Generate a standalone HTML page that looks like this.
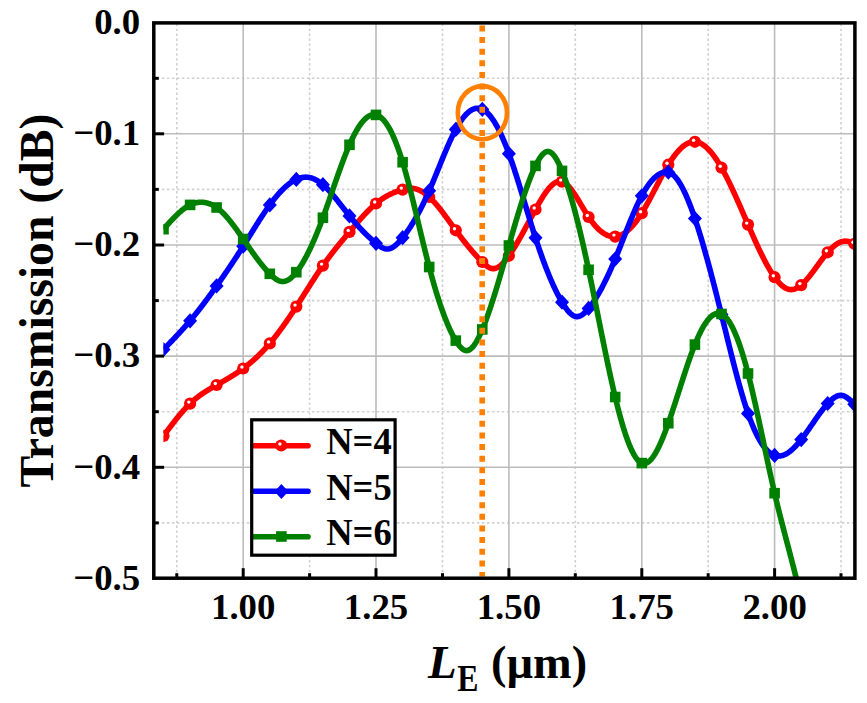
<!DOCTYPE html>
<html><head><meta charset="utf-8"><style>
html,body{margin:0;padding:0;background:#fff;}
body{width:867px;height:703px;overflow:hidden;font-family:"Liberation Serif",serif;}
svg{display:block;}
</style></head><body>
<svg width="867" height="703" viewBox="0 0 867 703">
<rect width="867" height="703" fill="#fff"/>
<defs><clipPath id="pc"><rect x="163.4" y="22.9" width="691.5" height="555.3"/></clipPath></defs>
<line x1="176.8" y1="22.9" x2="176.8" y2="578.2" stroke="#d0d0d0" stroke-width="1.6" stroke-dasharray="2.4 2.52" stroke-dashoffset="4.1"/>
<line x1="309.6" y1="22.9" x2="309.6" y2="578.2" stroke="#d0d0d0" stroke-width="1.6" stroke-dasharray="2.4 2.52" stroke-dashoffset="4.1"/>
<line x1="442.5" y1="22.9" x2="442.5" y2="578.2" stroke="#d0d0d0" stroke-width="1.6" stroke-dasharray="2.4 2.52" stroke-dashoffset="4.1"/>
<line x1="575.3" y1="22.9" x2="575.3" y2="578.2" stroke="#d0d0d0" stroke-width="1.6" stroke-dasharray="2.4 2.52" stroke-dashoffset="4.1"/>
<line x1="708.2" y1="22.9" x2="708.2" y2="578.2" stroke="#d0d0d0" stroke-width="1.6" stroke-dasharray="2.4 2.52" stroke-dashoffset="4.1"/>
<line x1="841.0" y1="22.9" x2="841.0" y2="578.2" stroke="#d0d0d0" stroke-width="1.6" stroke-dasharray="2.4 2.52" stroke-dashoffset="4.1"/>
<line x1="153.8" y1="78.3" x2="854.9" y2="78.3" stroke="#d0d0d0" stroke-width="1.6" stroke-dasharray="2.45 2.55" stroke-dashoffset="1.9"/>
<line x1="153.8" y1="189.4" x2="854.9" y2="189.4" stroke="#d0d0d0" stroke-width="1.6" stroke-dasharray="2.45 2.55" stroke-dashoffset="1.9"/>
<line x1="153.8" y1="300.6" x2="854.9" y2="300.6" stroke="#d0d0d0" stroke-width="1.6" stroke-dasharray="2.45 2.55" stroke-dashoffset="1.9"/>
<line x1="153.8" y1="411.7" x2="854.9" y2="411.7" stroke="#d0d0d0" stroke-width="1.6" stroke-dasharray="2.45 2.55" stroke-dashoffset="1.9"/>
<line x1="153.8" y1="522.9" x2="854.9" y2="522.9" stroke="#d0d0d0" stroke-width="1.6" stroke-dasharray="2.45 2.55" stroke-dashoffset="1.9"/>
<line x1="243.2" y1="22.9" x2="243.2" y2="578.2" stroke="#bcbcbc" stroke-width="1.6"/>
<line x1="376.0" y1="22.9" x2="376.0" y2="578.2" stroke="#bcbcbc" stroke-width="1.6"/>
<line x1="508.9" y1="22.9" x2="508.9" y2="578.2" stroke="#bcbcbc" stroke-width="1.6"/>
<line x1="641.8" y1="22.9" x2="641.8" y2="578.2" stroke="#bcbcbc" stroke-width="1.6"/>
<line x1="774.6" y1="22.9" x2="774.6" y2="578.2" stroke="#bcbcbc" stroke-width="1.6"/>
<line x1="153.8" y1="133.8" x2="854.9" y2="133.8" stroke="#bcbcbc" stroke-width="1.6"/>
<line x1="153.8" y1="245.0" x2="854.9" y2="245.0" stroke="#bcbcbc" stroke-width="1.6"/>
<line x1="153.8" y1="356.1" x2="854.9" y2="356.1" stroke="#bcbcbc" stroke-width="1.6"/>
<line x1="153.8" y1="467.3" x2="854.9" y2="467.3" stroke="#bcbcbc" stroke-width="1.6"/>
<g clip-path="url(#pc)">
<path d="M163.49,435.90 L163.99,435.23 L164.49,434.56 L164.99,433.88 L165.49,433.21 L165.99,432.54 L166.49,431.87 L166.99,431.20 L167.49,430.54 L167.99,429.87 L168.49,429.20 L168.99,428.54 L169.49,427.88 L169.99,427.21 L170.49,426.56 L170.99,425.90 L171.49,425.24 L171.99,424.59 L172.49,423.94 L172.99,423.29 L173.49,422.64 L173.99,422.00 L174.49,421.36 L174.99,420.72 L175.49,420.09 L175.99,419.46 L176.49,418.83 L176.99,418.20 L177.49,417.58 L177.99,416.97 L178.49,416.35 L178.99,415.75 L179.49,415.14 L179.99,414.54 L180.49,413.95 L180.99,413.36 L181.49,412.77 L181.99,412.19 L182.49,411.61 L182.99,411.04 L183.49,410.48 L183.99,409.92 L184.49,409.36 L184.99,408.81 L185.49,408.27 L185.99,407.73 L186.49,407.20 L186.99,406.68 L187.49,406.16 L187.99,405.65 L188.49,405.14 L188.99,404.64 L189.49,404.15 L189.99,403.67 L190.49,403.19 L190.99,402.72 L191.49,402.26 L191.99,401.80 L192.49,401.35 L192.99,400.91 L193.49,400.47 L193.99,400.04 L194.49,399.62 L194.99,399.20 L195.49,398.79 L195.99,398.38 L196.49,397.98 L196.99,397.59 L197.49,397.20 L197.99,396.82 L198.49,396.44 L198.99,396.06 L199.49,395.69 L199.99,395.33 L200.49,394.97 L200.99,394.61 L201.49,394.26 L201.99,393.92 L202.49,393.57 L202.99,393.23 L203.49,392.90 L203.99,392.57 L204.49,392.24 L204.99,391.91 L205.49,391.59 L205.99,391.27 L206.49,390.96 L206.99,390.65 L207.49,390.34 L207.99,390.03 L208.49,389.73 L208.99,389.42 L209.49,389.12 L209.99,388.83 L210.49,388.53 L210.99,388.24 L211.49,387.94 L211.99,387.65 L212.49,387.36 L212.99,387.07 L213.49,386.79 L213.99,386.50 L214.49,386.22 L214.99,385.93 L215.49,385.65 L215.99,385.36 L216.49,385.08 L216.99,384.80 L217.49,384.51 L217.99,384.23 L218.49,383.95 L218.99,383.66 L219.49,383.38 L219.99,383.10 L220.49,382.81 L220.99,382.53 L221.49,382.24 L221.99,381.96 L222.49,381.67 L222.99,381.39 L223.49,381.10 L223.99,380.81 L224.49,380.52 L224.99,380.24 L225.49,379.94 L225.99,379.65 L226.49,379.36 L226.99,379.07 L227.49,378.77 L227.99,378.48 L228.49,378.18 L228.99,377.88 L229.49,377.58 L229.99,377.28 L230.49,376.97 L230.99,376.67 L231.49,376.36 L231.99,376.05 L232.49,375.74 L232.99,375.43 L233.49,375.11 L233.99,374.80 L234.49,374.48 L234.99,374.16 L235.49,373.83 L235.99,373.51 L236.49,373.18 L236.99,372.85 L237.49,372.51 L237.99,372.18 L238.49,371.84 L238.99,371.50 L239.49,371.15 L239.99,370.80 L240.49,370.45 L240.99,370.10 L241.49,369.74 L241.99,369.38 L242.49,369.02 L242.99,368.65 L243.49,368.29 L243.99,367.91 L244.49,367.54 L244.99,367.16 L245.49,366.77 L245.99,366.39 L246.49,366.00 L246.99,365.60 L247.49,365.20 L247.99,364.80 L248.49,364.40 L248.99,363.99 L249.49,363.58 L249.99,363.16 L250.49,362.74 L250.99,362.32 L251.49,361.89 L251.99,361.46 L252.49,361.02 L252.99,360.58 L253.49,360.14 L253.99,359.69 L254.49,359.24 L254.99,358.79 L255.49,358.33 L255.99,357.87 L256.49,357.40 L256.99,356.93 L257.49,356.45 L257.99,355.97 L258.49,355.49 L258.99,355.00 L259.49,354.51 L259.99,354.01 L260.49,353.51 L260.99,353.01 L261.49,352.50 L261.99,351.98 L262.49,351.46 L262.99,350.94 L263.49,350.41 L263.99,349.88 L264.49,349.35 L264.99,348.80 L265.49,348.26 L265.99,347.71 L266.49,347.15 L266.99,346.60 L267.49,346.03 L267.99,345.46 L268.49,344.89 L268.99,344.31 L269.49,343.73 L269.99,343.14 L270.49,342.55 L270.99,341.95 L271.49,341.35 L271.99,340.74 L272.49,340.13 L272.99,339.51 L273.49,338.89 L273.99,338.27 L274.49,337.64 L274.99,337.01 L275.49,336.37 L275.99,335.73 L276.49,335.08 L276.99,334.43 L277.49,333.78 L277.99,333.12 L278.49,332.45 L278.99,331.79 L279.49,331.12 L279.99,330.44 L280.49,329.76 L280.99,329.08 L281.49,328.40 L281.99,327.71 L282.49,327.02 L282.99,326.32 L283.49,325.62 L283.99,324.92 L284.49,324.21 L284.99,323.50 L285.49,322.79 L285.99,322.07 L286.49,321.35 L286.99,320.63 L287.49,319.90 L287.99,319.17 L288.49,318.44 L288.99,317.71 L289.49,316.97 L289.99,316.23 L290.49,315.48 L290.99,314.74 L291.49,313.99 L291.99,313.24 L292.49,312.48 L292.99,311.73 L293.49,310.97 L293.99,310.21 L294.49,309.44 L294.99,308.68 L295.49,307.91 L295.99,307.14 L296.49,306.37 L296.99,305.59 L297.49,304.82 L297.99,304.04 L298.49,303.26 L298.99,302.48 L299.49,301.69 L299.99,300.91 L300.49,300.12 L300.99,299.34 L301.49,298.55 L301.99,297.76 L302.49,296.97 L302.99,296.18 L303.49,295.39 L303.99,294.60 L304.49,293.81 L304.99,293.02 L305.49,292.23 L305.99,291.43 L306.49,290.64 L306.99,289.85 L307.49,289.06 L307.99,288.27 L308.49,287.48 L308.99,286.70 L309.49,285.91 L309.99,285.12 L310.49,284.34 L310.99,283.56 L311.49,282.77 L311.99,281.99 L312.49,281.22 L312.99,280.44 L313.49,279.67 L313.99,278.89 L314.49,278.12 L314.99,277.35 L315.49,276.59 L315.99,275.83 L316.49,275.07 L316.99,274.31 L317.49,273.55 L317.99,272.80 L318.49,272.06 L318.99,271.31 L319.49,270.57 L319.99,269.83 L320.49,269.10 L320.99,268.37 L321.49,267.64 L321.99,266.92 L322.49,266.20 L322.99,265.49 L323.49,264.78 L323.99,264.07 L324.49,263.37 L324.99,262.67 L325.49,261.98 L325.99,261.29 L326.49,260.61 L326.99,259.93 L327.49,259.25 L327.99,258.58 L328.49,257.91 L328.99,257.24 L329.49,256.58 L329.99,255.92 L330.49,255.26 L330.99,254.61 L331.49,253.95 L331.99,253.31 L332.49,252.66 L332.99,252.02 L333.49,251.38 L333.99,250.75 L334.49,250.11 L334.99,249.48 L335.49,248.85 L335.99,248.23 L336.49,247.60 L336.99,246.98 L337.49,246.36 L337.99,245.74 L338.49,245.12 L338.99,244.51 L339.49,243.90 L339.99,243.29 L340.49,242.68 L340.99,242.07 L341.49,241.46 L341.99,240.86 L342.49,240.26 L342.99,239.65 L343.49,239.05 L343.99,238.45 L344.49,237.85 L344.99,237.25 L345.49,236.65 L345.99,236.06 L346.49,235.46 L346.99,234.86 L347.49,234.27 L347.99,233.67 L348.49,233.08 L348.99,232.48 L349.49,231.89 L349.99,231.29 L350.49,230.70 L350.99,230.10 L351.49,229.51 L351.99,228.92 L352.49,228.32 L352.99,227.73 L353.49,227.14 L353.99,226.55 L354.49,225.96 L354.99,225.37 L355.49,224.79 L355.99,224.20 L356.49,223.62 L356.99,223.04 L357.49,222.46 L357.99,221.88 L358.49,221.31 L358.99,220.74 L359.49,220.17 L359.99,219.60 L360.49,219.03 L360.99,218.47 L361.49,217.91 L361.99,217.36 L362.49,216.80 L362.99,216.25 L363.49,215.71 L363.99,215.16 L364.49,214.63 L364.99,214.09 L365.49,213.56 L365.99,213.03 L366.49,212.51 L366.99,211.99 L367.49,211.48 L367.99,210.97 L368.49,210.46 L368.99,209.96 L369.49,209.47 L369.99,208.98 L370.49,208.50 L370.99,208.02 L371.49,207.54 L371.99,207.08 L372.49,206.61 L372.99,206.16 L373.49,205.71 L373.99,205.26 L374.49,204.82 L374.99,204.39 L375.49,203.97 L375.99,203.55 L376.49,203.14 L376.99,202.73 L377.49,202.33 L377.99,201.94 L378.49,201.56 L378.99,201.18 L379.49,200.81 L379.99,200.44 L380.49,200.08 L380.99,199.73 L381.49,199.38 L381.99,199.04 L382.49,198.71 L382.99,198.38 L383.49,198.05 L383.99,197.74 L384.49,197.43 L384.99,197.12 L385.49,196.82 L385.99,196.53 L386.49,196.24 L386.99,195.96 L387.49,195.68 L387.99,195.41 L388.49,195.14 L388.99,194.88 L389.49,194.63 L389.99,194.37 L390.49,194.13 L390.99,193.89 L391.49,193.65 L391.99,193.42 L392.49,193.20 L392.99,192.98 L393.49,192.76 L393.99,192.55 L394.49,192.35 L394.99,192.14 L395.49,191.95 L395.99,191.75 L396.49,191.57 L396.99,191.38 L397.49,191.20 L397.99,191.03 L398.49,190.86 L398.99,190.69 L399.49,190.53 L399.99,190.37 L400.49,190.21 L400.99,190.06 L401.49,189.92 L401.99,189.77 L402.49,189.64 L402.99,189.50 L403.49,189.37 L403.99,189.24 L404.49,189.12 L404.99,189.00 L405.49,188.90 L405.99,188.79 L406.49,188.70 L406.99,188.61 L407.49,188.53 L407.99,188.46 L408.49,188.40 L408.99,188.35 L409.49,188.31 L409.99,188.29 L410.49,188.27 L410.99,188.27 L411.49,188.28 L411.99,188.30 L412.49,188.34 L412.99,188.39 L413.49,188.45 L413.99,188.53 L414.49,188.62 L414.99,188.73 L415.49,188.85 L415.99,188.98 L416.49,189.13 L416.99,189.29 L417.49,189.46 L417.99,189.64 L418.49,189.84 L418.99,190.05 L419.49,190.28 L419.99,190.51 L420.49,190.76 L420.99,191.02 L421.49,191.30 L421.99,191.58 L422.49,191.88 L422.99,192.19 L423.49,192.51 L423.99,192.85 L424.49,193.19 L424.99,193.55 L425.49,193.92 L425.99,194.30 L426.49,194.69 L426.99,195.10 L427.49,195.51 L427.99,195.93 L428.49,196.37 L428.99,196.82 L429.49,197.28 L429.99,197.74 L430.49,198.22 L430.99,198.71 L431.49,199.21 L431.99,199.72 L432.49,200.24 L432.99,200.76 L433.49,201.30 L433.99,201.84 L434.49,202.40 L434.99,202.96 L435.49,203.53 L435.99,204.10 L436.49,204.69 L436.99,205.28 L437.49,205.87 L437.99,206.48 L438.49,207.09 L438.99,207.71 L439.49,208.33 L439.99,208.96 L440.49,209.59 L440.99,210.23 L441.49,210.88 L441.99,211.52 L442.49,212.18 L442.99,212.84 L443.49,213.50 L443.99,214.16 L444.49,214.83 L444.99,215.50 L445.49,216.18 L445.99,216.86 L446.49,217.54 L446.99,218.22 L447.49,218.90 L447.99,219.59 L448.49,220.28 L448.99,220.97 L449.49,221.66 L449.99,222.35 L450.49,223.04 L450.99,223.73 L451.49,224.42 L451.99,225.12 L452.49,225.81 L452.99,226.50 L453.49,227.19 L453.99,227.88 L454.49,228.56 L454.99,229.25 L455.49,229.93 L455.99,230.61 L456.49,231.29 L456.99,231.97 L457.49,232.64 L457.99,233.31 L458.49,233.98 L458.99,234.65 L459.49,235.32 L459.99,235.98 L460.49,236.64 L460.99,237.29 L461.49,237.94 L461.99,238.59 L462.49,239.24 L462.99,239.89 L463.49,240.53 L463.99,241.17 L464.49,241.80 L464.99,242.43 L465.49,243.06 L465.99,243.69 L466.49,244.31 L466.99,244.93 L467.49,245.54 L467.99,246.16 L468.49,246.76 L468.99,247.37 L469.49,247.97 L469.99,248.57 L470.49,249.16 L470.99,249.75 L471.49,250.34 L471.99,250.92 L472.49,251.50 L472.99,252.07 L473.49,252.64 L473.99,253.21 L474.49,253.77 L474.99,254.33 L475.49,254.88 L475.99,255.43 L476.49,255.98 L476.99,256.52 L477.49,257.05 L477.99,257.58 L478.49,258.11 L478.99,258.63 L479.49,259.15 L479.99,259.66 L480.49,260.17 L480.99,260.67 L481.49,261.17 L481.99,261.67 L482.49,262.16 L482.99,262.64 L483.49,263.11 L483.99,263.58 L484.49,264.04 L484.99,264.48 L485.49,264.91 L485.99,265.33 L486.49,265.73 L486.99,266.11 L487.49,266.47 L487.99,266.81 L488.49,267.12 L488.99,267.41 L489.49,267.68 L489.99,267.91 L490.49,268.12 L490.99,268.29 L491.49,268.43 L491.99,268.54 L492.49,268.61 L492.99,268.64 L493.49,268.64 L493.99,268.61 L494.49,268.54 L494.99,268.45 L495.49,268.32 L495.99,268.16 L496.49,267.97 L496.99,267.75 L497.49,267.51 L497.99,267.23 L498.49,266.93 L498.99,266.61 L499.49,266.25 L499.99,265.88 L500.49,265.48 L500.99,265.05 L501.49,264.60 L501.99,264.14 L502.49,263.65 L502.99,263.14 L503.49,262.60 L503.99,262.06 L504.49,261.49 L504.99,260.90 L505.49,260.30 L505.99,259.68 L506.49,259.05 L506.99,258.40 L507.49,257.74 L507.99,257.06 L508.49,256.37 L508.99,255.67 L509.49,254.96 L509.99,254.24 L510.49,253.51 L510.99,252.76 L511.49,252.01 L511.99,251.25 L512.49,250.47 L512.99,249.69 L513.49,248.90 L513.99,248.10 L514.49,247.29 L514.99,246.48 L515.49,245.65 L515.99,244.82 L516.49,243.98 L516.99,243.14 L517.49,242.29 L517.99,241.43 L518.49,240.56 L518.99,239.69 L519.49,238.81 L519.99,237.93 L520.49,237.05 L520.99,236.15 L521.49,235.26 L521.99,234.36 L522.49,233.45 L522.99,232.54 L523.49,231.63 L523.99,230.72 L524.49,229.80 L524.99,228.88 L525.49,227.96 L525.99,227.03 L526.49,226.11 L526.99,225.18 L527.49,224.25 L527.99,223.32 L528.49,222.39 L528.99,221.46 L529.49,220.53 L529.99,219.60 L530.49,218.67 L530.99,217.74 L531.49,216.81 L531.99,215.89 L532.49,214.96 L532.99,214.04 L533.49,213.12 L533.99,212.20 L534.49,211.29 L534.99,210.37 L535.49,209.46 L535.99,208.56 L536.49,207.66 L536.99,206.76 L537.49,205.87 L537.99,204.98 L538.49,204.11 L538.99,203.23 L539.49,202.37 L539.99,201.52 L540.49,200.67 L540.99,199.83 L541.49,199.01 L541.99,198.19 L542.49,197.39 L542.99,196.60 L543.49,195.82 L543.99,195.06 L544.49,194.31 L544.99,193.57 L545.49,192.85 L545.99,192.14 L546.49,191.45 L546.99,190.78 L547.49,190.13 L547.99,189.49 L548.49,188.88 L548.99,188.28 L549.49,187.70 L549.99,187.14 L550.49,186.61 L550.99,186.10 L551.49,185.60 L551.99,185.14 L552.49,184.69 L552.99,184.27 L553.49,183.88 L553.99,183.51 L554.49,183.17 L554.99,182.85 L555.49,182.56 L555.99,182.30 L556.49,182.07 L556.99,181.87 L557.49,181.69 L557.99,181.55 L558.49,181.44 L558.99,181.36 L559.49,181.31 L559.99,181.30 L560.49,181.32 L560.99,181.37 L561.49,181.46 L561.99,181.59 L562.49,181.75 L562.99,181.94 L563.49,182.17 L563.99,182.43 L564.49,182.73 L564.99,183.05 L565.49,183.41 L565.99,183.80 L566.49,184.21 L566.99,184.65 L567.49,185.12 L567.99,185.62 L568.49,186.14 L568.99,186.69 L569.49,187.25 L569.99,187.84 L570.49,188.46 L570.99,189.09 L571.49,189.74 L571.99,190.41 L572.49,191.10 L572.99,191.80 L573.49,192.52 L573.99,193.25 L574.49,194.00 L574.99,194.76 L575.49,195.54 L575.99,196.32 L576.49,197.12 L576.99,197.92 L577.49,198.73 L577.99,199.55 L578.49,200.38 L578.99,201.21 L579.49,202.05 L579.99,202.89 L580.49,203.73 L580.99,204.57 L581.49,205.42 L581.99,206.26 L582.49,207.11 L582.99,207.95 L583.49,208.79 L583.99,209.62 L584.49,210.45 L584.99,211.28 L585.49,212.10 L585.99,212.91 L586.49,213.71 L586.99,214.50 L587.49,215.29 L587.99,216.06 L588.49,216.82 L588.99,217.57 L589.49,218.30 L589.99,219.02 L590.49,219.73 L590.99,220.42 L591.49,221.10 L591.99,221.76 L592.49,222.42 L592.99,223.06 L593.49,223.68 L593.99,224.29 L594.49,224.89 L594.99,225.47 L595.49,226.04 L595.99,226.59 L596.49,227.13 L596.99,227.66 L597.49,228.17 L597.99,228.67 L598.49,229.15 L598.99,229.62 L599.49,230.08 L599.99,230.52 L600.49,230.94 L600.99,231.35 L601.49,231.75 L601.99,232.13 L602.49,232.49 L602.99,232.84 L603.49,233.18 L603.99,233.50 L604.49,233.80 L604.99,234.09 L605.49,234.37 L605.99,234.63 L606.49,234.87 L606.99,235.10 L607.49,235.32 L607.99,235.51 L608.49,235.70 L608.99,235.86 L609.49,236.01 L609.99,236.15 L610.49,236.27 L610.99,236.37 L611.49,236.46 L611.99,236.53 L612.49,236.58 L612.99,236.62 L613.49,236.64 L613.99,236.65 L614.49,236.64 L614.99,236.61 L615.49,236.57 L615.99,236.51 L616.49,236.44 L616.99,236.34 L617.49,236.24 L617.99,236.11 L618.49,235.97 L618.99,235.82 L619.49,235.64 L619.99,235.46 L620.49,235.25 L620.99,235.03 L621.49,234.80 L621.99,234.55 L622.49,234.28 L622.99,234.00 L623.49,233.70 L623.99,233.39 L624.49,233.07 L624.99,232.73 L625.49,232.37 L625.99,232.00 L626.49,231.61 L626.99,231.21 L627.49,230.80 L627.99,230.37 L628.49,229.93 L628.99,229.47 L629.49,229.00 L629.99,228.51 L630.49,228.01 L630.99,227.49 L631.49,226.97 L631.99,226.42 L632.49,225.87 L632.99,225.30 L633.49,224.72 L633.99,224.12 L634.49,223.51 L634.99,222.89 L635.49,222.25 L635.99,221.60 L636.49,220.94 L636.99,220.26 L637.49,219.58 L637.99,218.87 L638.49,218.16 L638.99,217.43 L639.49,216.70 L639.99,215.94 L640.49,215.18 L640.99,214.40 L641.49,213.61 L641.99,212.81 L642.49,212.00 L642.99,211.18 L643.49,210.34 L643.99,209.50 L644.49,208.64 L644.99,207.78 L645.49,206.90 L645.99,206.02 L646.49,205.13 L646.99,204.23 L647.49,203.32 L647.99,202.41 L648.49,201.49 L648.99,200.56 L649.49,199.63 L649.99,198.69 L650.49,197.75 L650.99,196.80 L651.49,195.85 L651.99,194.90 L652.49,193.94 L652.99,192.98 L653.49,192.02 L653.99,191.06 L654.49,190.09 L654.99,189.13 L655.49,188.16 L655.99,187.20 L656.49,186.23 L656.99,185.27 L657.49,184.31 L657.99,183.35 L658.49,182.39 L658.99,181.43 L659.49,180.48 L659.99,179.53 L660.49,178.59 L660.99,177.65 L661.49,176.72 L661.99,175.79 L662.49,174.87 L662.99,173.95 L663.49,173.04 L663.99,172.14 L664.49,171.25 L664.99,170.36 L665.49,169.48 L665.99,168.61 L666.49,167.75 L666.99,166.91 L667.49,166.07 L667.99,165.24 L668.49,164.42 L668.99,163.62 L669.49,162.83 L669.99,162.05 L670.49,161.28 L670.99,160.52 L671.49,159.78 L671.99,159.05 L672.49,158.33 L672.99,157.62 L673.49,156.93 L673.99,156.25 L674.49,155.58 L674.99,154.93 L675.49,154.29 L675.99,153.67 L676.49,153.06 L676.99,152.46 L677.49,151.88 L677.99,151.31 L678.49,150.76 L678.99,150.22 L679.49,149.70 L679.99,149.19 L680.49,148.70 L680.99,148.22 L681.49,147.76 L681.99,147.32 L682.49,146.89 L682.99,146.47 L683.49,146.08 L683.99,145.70 L684.49,145.33 L684.99,144.98 L685.49,144.65 L685.99,144.34 L686.49,144.04 L686.99,143.77 L687.49,143.50 L687.99,143.26 L688.49,143.04 L688.99,142.83 L689.49,142.64 L689.99,142.47 L690.49,142.32 L690.99,142.18 L691.49,142.07 L691.99,141.97 L692.49,141.90 L692.99,141.84 L693.49,141.80 L693.99,141.78 L694.49,141.78 L694.99,141.81 L695.49,141.85 L695.99,141.91 L696.49,141.99 L696.99,142.09 L697.49,142.21 L697.99,142.35 L698.49,142.51 L698.99,142.69 L699.49,142.88 L699.99,143.10 L700.49,143.33 L700.99,143.58 L701.49,143.85 L701.99,144.14 L702.49,144.45 L702.99,144.77 L703.49,145.11 L703.99,145.47 L704.49,145.85 L704.99,146.24 L705.49,146.65 L705.99,147.08 L706.49,147.52 L706.99,147.98 L707.49,148.45 L707.99,148.95 L708.49,149.45 L708.99,149.98 L709.49,150.52 L709.99,151.07 L710.49,151.64 L710.99,152.23 L711.49,152.83 L711.99,153.44 L712.49,154.07 L712.99,154.72 L713.49,155.38 L713.99,156.05 L714.49,156.74 L714.99,157.44 L715.49,158.15 L715.99,158.88 L716.49,159.62 L716.99,160.38 L717.49,161.15 L717.99,161.93 L718.49,162.72 L718.99,163.53 L719.49,164.35 L719.99,165.18 L720.49,166.03 L720.99,166.88 L721.49,167.75 L721.99,168.63 L722.49,169.52 L722.99,170.43 L723.49,171.34 L723.99,172.26 L724.49,173.20 L724.99,174.14 L725.49,175.10 L725.99,176.06 L726.49,177.04 L726.99,178.02 L727.49,179.02 L727.99,180.02 L728.49,181.03 L728.99,182.05 L729.49,183.07 L729.99,184.11 L730.49,185.15 L730.99,186.20 L731.49,187.26 L731.99,188.32 L732.49,189.39 L732.99,190.47 L733.49,191.55 L733.99,192.64 L734.49,193.73 L734.99,194.83 L735.49,195.93 L735.99,197.04 L736.49,198.16 L736.99,199.28 L737.49,200.40 L737.99,201.53 L738.49,202.66 L738.99,203.79 L739.49,204.93 L739.99,206.07 L740.49,207.21 L740.99,208.35 L741.49,209.50 L741.99,210.65 L742.49,211.80 L742.99,212.95 L743.49,214.11 L743.99,215.26 L744.49,216.42 L744.99,217.57 L745.49,218.73 L745.99,219.89 L746.49,221.04 L746.99,222.20 L747.49,223.35 L747.99,224.51 L748.49,225.66 L748.99,226.81 L749.49,227.96 L749.99,229.11 L750.49,230.25 L750.99,231.40 L751.49,232.54 L751.99,233.67 L752.49,234.81 L752.99,235.94 L753.49,237.06 L753.99,238.18 L754.49,239.30 L754.99,240.41 L755.49,241.52 L755.99,242.62 L756.49,243.72 L756.99,244.81 L757.49,245.89 L757.99,246.97 L758.49,248.04 L758.99,249.10 L759.49,250.16 L759.99,251.21 L760.49,252.25 L760.99,253.28 L761.49,254.30 L761.99,255.32 L762.49,256.32 L762.99,257.32 L763.49,258.31 L763.99,259.29 L764.49,260.25 L764.99,261.21 L765.49,262.16 L765.99,263.09 L766.49,264.02 L766.99,264.93 L767.49,265.83 L767.99,266.72 L768.49,267.59 L768.99,268.46 L769.49,269.31 L769.99,270.15 L770.49,270.97 L770.99,271.78 L771.49,272.58 L771.99,273.36 L772.49,274.13 L772.99,274.88 L773.49,275.62 L773.99,276.34 L774.49,277.05 L774.99,277.74 L775.49,278.41 L775.99,279.07 L776.49,279.71 L776.99,280.33 L777.49,280.94 L777.99,281.53 L778.49,282.10 L778.99,282.65 L779.49,283.18 L779.99,283.70 L780.49,284.19 L780.99,284.67 L781.49,285.12 L781.99,285.56 L782.49,285.97 L782.99,286.37 L783.49,286.74 L783.99,287.09 L784.49,287.42 L784.99,287.73 L785.49,288.02 L785.99,288.28 L786.49,288.52 L786.99,288.74 L787.49,288.93 L787.99,289.10 L788.49,289.25 L788.99,289.37 L789.49,289.46 L789.99,289.54 L790.49,289.58 L790.99,289.61 L791.49,289.60 L791.99,289.57 L792.49,289.52 L792.99,289.44 L793.49,289.34 L793.99,289.21 L794.49,289.06 L794.99,288.89 L795.49,288.70 L795.99,288.48 L796.49,288.25 L796.99,287.99 L797.49,287.72 L797.99,287.42 L798.49,287.10 L798.99,286.77 L799.49,286.42 L799.99,286.05 L800.49,285.66 L800.99,285.25 L801.49,284.83 L801.99,284.39 L802.49,283.93 L802.99,283.46 L803.49,282.98 L803.99,282.48 L804.49,281.97 L804.99,281.44 L805.49,280.91 L805.99,280.36 L806.49,279.79 L806.99,279.22 L807.49,278.64 L807.99,278.04 L808.49,277.44 L808.99,276.83 L809.49,276.21 L809.99,275.58 L810.49,274.95 L810.99,274.30 L811.49,273.65 L811.99,273.00 L812.49,272.34 L812.99,271.67 L813.49,271.00 L813.99,270.33 L814.49,269.65 L814.99,268.97 L815.49,268.29 L815.99,267.61 L816.49,266.92 L816.99,266.24 L817.49,265.55 L817.99,264.87 L818.49,264.18 L818.99,263.50 L819.49,262.82 L819.99,262.14 L820.49,261.46 L820.99,260.79 L821.49,260.12 L821.99,259.46 L822.49,258.80 L822.99,258.14 L823.49,257.49 L823.99,256.85 L824.49,256.22 L824.99,255.59 L825.49,254.97 L825.99,254.36 L826.49,253.76 L826.99,253.17 L827.49,252.59 L827.99,252.02 L828.49,251.46 L828.99,250.91 L829.49,250.37 L829.99,249.84 L830.49,249.33 L830.99,248.83 L831.49,248.34 L831.99,247.87 L832.49,247.41 L832.99,246.96 L833.49,246.53 L833.99,246.11 L834.49,245.71 L834.99,245.32 L835.49,244.94 L835.99,244.58 L836.49,244.24 L836.99,243.92 L837.49,243.61 L837.99,243.31 L838.49,243.04 L838.99,242.78 L839.49,242.54 L839.99,242.32 L840.49,242.11 L840.99,241.93 L841.49,241.76 L841.99,241.61 L842.49,241.48 L842.99,241.38 L843.49,241.29 L843.99,241.22 L844.49,241.17 L844.99,241.15 L845.49,241.14 L845.99,241.16 L846.49,241.20 L846.99,241.26 L847.49,241.34 L847.99,241.44 L848.49,241.56 L848.99,241.70 L849.49,241.85 L849.99,242.01 L850.49,242.19 L850.99,242.38 L851.49,242.58 L851.99,242.78 L852.49,242.99 L852.99,243.21 L853.49,243.43 L853.99,243.66 L854.31,243.80" stroke="#ff0000" fill="none" stroke-width="5.6" stroke-linejoin="round"/>
<circle cx="163.5" cy="435.9" r="6.1" fill="#ff0000"/><circle cx="162.2" cy="434.4" r="1.7" fill="#fff"/>
<circle cx="190.1" cy="403.6" r="6.1" fill="#ff0000"/><circle cx="188.8" cy="402.1" r="1.7" fill="#fff"/>
<circle cx="216.6" cy="385.0" r="6.1" fill="#ff0000"/><circle cx="215.3" cy="383.5" r="1.7" fill="#fff"/>
<circle cx="243.2" cy="368.5" r="6.1" fill="#ff0000"/><circle cx="241.9" cy="367.0" r="1.7" fill="#fff"/>
<circle cx="269.8" cy="343.4" r="6.1" fill="#ff0000"/><circle cx="268.5" cy="341.9" r="1.7" fill="#fff"/>
<circle cx="296.3" cy="306.6" r="6.1" fill="#ff0000"/><circle cx="295.0" cy="305.1" r="1.7" fill="#fff"/>
<circle cx="322.9" cy="265.6" r="6.1" fill="#ff0000"/><circle cx="321.6" cy="264.1" r="1.7" fill="#fff"/>
<circle cx="349.5" cy="231.9" r="6.1" fill="#ff0000"/><circle cx="348.2" cy="230.4" r="1.7" fill="#fff"/>
<circle cx="376.0" cy="203.5" r="6.1" fill="#ff0000"/><circle cx="374.7" cy="202.0" r="1.7" fill="#fff"/>
<circle cx="402.6" cy="189.6" r="6.1" fill="#ff0000"/><circle cx="401.3" cy="188.1" r="1.7" fill="#fff"/>
<circle cx="429.2" cy="197.0" r="6.1" fill="#ff0000"/><circle cx="427.9" cy="195.5" r="1.7" fill="#fff"/>
<circle cx="455.8" cy="230.3" r="6.1" fill="#ff0000"/><circle cx="454.5" cy="228.8" r="1.7" fill="#fff"/>
<circle cx="482.3" cy="262.0" r="6.1" fill="#ff0000"/><circle cx="481.0" cy="260.5" r="1.7" fill="#fff"/>
<circle cx="508.9" cy="255.8" r="6.1" fill="#ff0000"/><circle cx="507.6" cy="254.3" r="1.7" fill="#fff"/>
<circle cx="535.5" cy="209.5" r="6.1" fill="#ff0000"/><circle cx="534.2" cy="208.0" r="1.7" fill="#fff"/>
<circle cx="562.0" cy="181.6" r="6.1" fill="#ff0000"/><circle cx="560.7" cy="180.1" r="1.7" fill="#fff"/>
<circle cx="588.6" cy="217.0" r="6.1" fill="#ff0000"/><circle cx="587.3" cy="215.5" r="1.7" fill="#fff"/>
<circle cx="615.2" cy="236.6" r="6.1" fill="#ff0000"/><circle cx="613.9" cy="235.1" r="1.7" fill="#fff"/>
<circle cx="641.8" cy="213.2" r="6.1" fill="#ff0000"/><circle cx="640.5" cy="211.7" r="1.7" fill="#fff"/>
<circle cx="668.3" cy="164.7" r="6.1" fill="#ff0000"/><circle cx="667.0" cy="163.2" r="1.7" fill="#fff"/>
<circle cx="694.9" cy="141.8" r="6.1" fill="#ff0000"/><circle cx="693.6" cy="140.3" r="1.7" fill="#fff"/>
<circle cx="721.5" cy="167.7" r="6.1" fill="#ff0000"/><circle cx="720.2" cy="166.2" r="1.7" fill="#fff"/>
<circle cx="748.0" cy="224.6" r="6.1" fill="#ff0000"/><circle cx="746.7" cy="223.1" r="1.7" fill="#fff"/>
<circle cx="774.6" cy="277.2" r="6.1" fill="#ff0000"/><circle cx="773.3" cy="275.7" r="1.7" fill="#fff"/>
<circle cx="801.2" cy="285.1" r="6.1" fill="#ff0000"/><circle cx="799.9" cy="283.6" r="1.7" fill="#fff"/>
<circle cx="827.7" cy="252.3" r="6.1" fill="#ff0000"/><circle cx="826.4" cy="250.8" r="1.7" fill="#fff"/>
<circle cx="854.3" cy="243.8" r="6.1" fill="#ff0000"/><circle cx="853.0" cy="242.3" r="1.7" fill="#fff"/>
<path d="M163.49,349.50 L163.99,348.99 L164.49,348.47 L164.99,347.96 L165.49,347.44 L165.99,346.93 L166.49,346.42 L166.99,345.90 L167.49,345.39 L167.99,344.87 L168.49,344.35 L168.99,343.84 L169.49,343.32 L169.99,342.80 L170.49,342.28 L170.99,341.76 L171.49,341.24 L171.99,340.72 L172.49,340.20 L172.99,339.67 L173.49,339.15 L173.99,338.62 L174.49,338.10 L174.99,337.57 L175.49,337.04 L175.99,336.51 L176.49,335.98 L176.99,335.44 L177.49,334.91 L177.99,334.37 L178.49,333.84 L178.99,333.30 L179.49,332.75 L179.99,332.21 L180.49,331.67 L180.99,331.12 L181.49,330.57 L181.99,330.02 L182.49,329.47 L182.99,328.91 L183.49,328.35 L183.99,327.79 L184.49,327.23 L184.99,326.67 L185.49,326.10 L185.99,325.53 L186.49,324.96 L186.99,324.39 L187.49,323.81 L187.99,323.23 L188.49,322.65 L188.99,322.06 L189.49,321.47 L189.99,320.88 L190.49,320.29 L190.99,319.69 L191.49,319.09 L191.99,318.49 L192.49,317.88 L192.99,317.28 L193.49,316.67 L193.99,316.05 L194.49,315.44 L194.99,314.82 L195.49,314.19 L195.99,313.57 L196.49,312.94 L196.99,312.31 L197.49,311.68 L197.99,311.05 L198.49,310.41 L198.99,309.77 L199.49,309.13 L199.99,308.48 L200.49,307.84 L200.99,307.19 L201.49,306.54 L201.99,305.88 L202.49,305.23 L202.99,304.57 L203.49,303.91 L203.99,303.25 L204.49,302.58 L204.99,301.92 L205.49,301.25 L205.99,300.58 L206.49,299.91 L206.99,299.23 L207.49,298.56 L207.99,297.88 L208.49,297.20 L208.99,296.52 L209.49,295.83 L209.99,295.15 L210.49,294.46 L210.99,293.77 L211.49,293.08 L211.99,292.39 L212.49,291.70 L212.99,291.00 L213.49,290.31 L213.99,289.61 L214.49,288.91 L214.99,288.21 L215.49,287.51 L215.99,286.80 L216.49,286.10 L216.99,285.39 L217.49,284.68 L217.99,283.98 L218.49,283.26 L218.99,282.55 L219.49,281.84 L219.99,281.13 L220.49,280.41 L220.99,279.69 L221.49,278.98 L221.99,278.26 L222.49,277.53 L222.99,276.81 L223.49,276.09 L223.99,275.36 L224.49,274.63 L224.99,273.90 L225.49,273.17 L225.99,272.44 L226.49,271.71 L226.99,270.97 L227.49,270.24 L227.99,269.50 L228.49,268.76 L228.99,268.02 L229.49,267.28 L229.99,266.53 L230.49,265.78 L230.99,265.04 L231.49,264.29 L231.99,263.53 L232.49,262.78 L232.99,262.03 L233.49,261.27 L233.99,260.51 L234.49,259.75 L234.99,258.99 L235.49,258.22 L235.99,257.46 L236.49,256.69 L236.99,255.92 L237.49,255.15 L237.99,254.38 L238.49,253.60 L238.99,252.82 L239.49,252.04 L239.99,251.26 L240.49,250.48 L240.99,249.69 L241.49,248.91 L241.99,248.12 L242.49,247.33 L242.99,246.53 L243.49,245.74 L243.99,244.94 L244.49,244.14 L244.99,243.34 L245.49,242.54 L245.99,241.74 L246.49,240.93 L246.99,240.13 L247.49,239.32 L247.99,238.51 L248.49,237.70 L248.99,236.89 L249.49,236.09 L249.99,235.28 L250.49,234.47 L250.99,233.66 L251.49,232.85 L251.99,232.04 L252.49,231.24 L252.99,230.43 L253.49,229.62 L253.99,228.82 L254.49,228.02 L254.99,227.22 L255.49,226.42 L255.99,225.62 L256.49,224.82 L256.99,224.03 L257.49,223.24 L257.99,222.45 L258.49,221.66 L258.99,220.87 L259.49,220.09 L259.99,219.31 L260.49,218.54 L260.99,217.76 L261.49,217.00 L261.99,216.23 L262.49,215.47 L262.99,214.71 L263.49,213.96 L263.99,213.21 L264.49,212.46 L264.99,211.72 L265.49,210.99 L265.99,210.26 L266.49,209.53 L266.99,208.81 L267.49,208.09 L267.99,207.38 L268.49,206.68 L268.99,205.98 L269.49,205.29 L269.99,204.60 L270.49,203.92 L270.99,203.24 L271.49,202.58 L271.99,201.91 L272.49,201.26 L272.99,200.61 L273.49,199.97 L273.99,199.33 L274.49,198.71 L274.99,198.08 L275.49,197.47 L275.99,196.86 L276.49,196.26 L276.99,195.67 L277.49,195.09 L277.99,194.51 L278.49,193.94 L278.99,193.38 L279.49,192.83 L279.99,192.28 L280.49,191.74 L280.99,191.21 L281.49,190.69 L281.99,190.18 L282.49,189.68 L282.99,189.18 L283.49,188.69 L283.99,188.21 L284.49,187.74 L284.99,187.28 L285.49,186.83 L285.99,186.39 L286.49,185.95 L286.99,185.53 L287.49,185.11 L287.99,184.71 L288.49,184.31 L288.99,183.92 L289.49,183.54 L289.99,183.18 L290.49,182.82 L290.99,182.47 L291.49,182.13 L291.99,181.81 L292.49,181.49 L292.99,181.18 L293.49,180.89 L293.99,180.60 L294.49,180.32 L294.99,180.06 L295.49,179.81 L295.99,179.56 L296.49,179.33 L296.99,179.11 L297.49,178.90 L297.99,178.70 L298.49,178.52 L298.99,178.34 L299.49,178.18 L299.99,178.03 L300.49,177.89 L300.99,177.76 L301.49,177.64 L301.99,177.54 L302.49,177.45 L302.99,177.37 L303.49,177.30 L303.99,177.25 L304.49,177.21 L304.99,177.18 L305.49,177.17 L305.99,177.17 L306.49,177.18 L306.99,177.21 L307.49,177.25 L307.99,177.30 L308.49,177.36 L308.99,177.44 L309.49,177.54 L309.99,177.64 L310.49,177.76 L310.99,177.90 L311.49,178.04 L311.99,178.20 L312.49,178.37 L312.99,178.55 L313.49,178.75 L313.99,178.96 L314.49,179.18 L314.99,179.41 L315.49,179.66 L315.99,179.92 L316.49,180.19 L316.99,180.47 L317.49,180.76 L317.99,181.07 L318.49,181.39 L318.99,181.72 L319.49,182.06 L319.99,182.41 L320.49,182.78 L320.99,183.15 L321.49,183.54 L321.99,183.94 L322.49,184.35 L322.99,184.77 L323.49,185.20 L323.99,185.64 L324.49,186.10 L324.99,186.56 L325.49,187.03 L325.99,187.51 L326.49,188.01 L326.99,188.51 L327.49,189.02 L327.99,189.54 L328.49,190.06 L328.99,190.60 L329.49,191.14 L329.99,191.69 L330.49,192.25 L330.99,192.81 L331.49,193.38 L331.99,193.96 L332.49,194.54 L332.99,195.13 L333.49,195.72 L333.99,196.32 L334.49,196.92 L334.99,197.53 L335.49,198.14 L335.99,198.76 L336.49,199.38 L336.99,200.00 L337.49,200.63 L337.99,201.26 L338.49,201.89 L338.99,202.53 L339.49,203.17 L339.99,203.80 L340.49,204.44 L340.99,205.09 L341.49,205.73 L341.99,206.37 L342.49,207.02 L342.99,207.66 L343.49,208.30 L343.99,208.95 L344.49,209.59 L344.99,210.23 L345.49,210.87 L345.99,211.51 L346.49,212.15 L346.99,212.78 L347.49,213.41 L347.99,214.04 L348.49,214.67 L348.99,215.29 L349.49,215.91 L349.99,216.53 L350.49,217.14 L350.99,217.75 L351.49,218.35 L351.99,218.96 L352.49,219.55 L352.99,220.15 L353.49,220.74 L353.99,221.32 L354.49,221.90 L354.99,222.48 L355.49,223.06 L355.99,223.63 L356.49,224.20 L356.99,224.76 L357.49,225.32 L357.99,225.87 L358.49,226.42 L358.99,226.97 L359.49,227.52 L359.99,228.06 L360.49,228.59 L360.99,229.12 L361.49,229.65 L361.99,230.18 L362.49,230.70 L362.99,231.21 L363.49,231.72 L363.99,232.23 L364.49,232.74 L364.99,233.24 L365.49,233.74 L365.99,234.23 L366.49,234.72 L366.99,235.20 L367.49,235.68 L367.99,236.16 L368.49,236.63 L368.99,237.10 L369.49,237.57 L369.99,238.03 L370.49,238.49 L370.99,238.94 L371.49,239.39 L371.99,239.83 L372.49,240.28 L372.99,240.71 L373.49,241.15 L373.99,241.57 L374.49,242.00 L374.99,242.42 L375.49,242.84 L375.99,243.25 L376.49,243.66 L376.99,244.06 L377.49,244.46 L377.99,244.85 L378.49,245.23 L378.99,245.60 L379.49,245.96 L379.99,246.30 L380.49,246.63 L380.99,246.95 L381.49,247.24 L381.99,247.52 L382.49,247.78 L382.99,248.02 L383.49,248.24 L383.99,248.43 L384.49,248.60 L384.99,248.74 L385.49,248.86 L385.99,248.94 L386.49,249.00 L386.99,249.02 L387.49,249.02 L387.99,248.98 L388.49,248.92 L388.99,248.82 L389.49,248.70 L389.99,248.55 L390.49,248.37 L390.99,248.17 L391.49,247.94 L391.99,247.69 L392.49,247.41 L392.99,247.11 L393.49,246.79 L393.99,246.44 L394.49,246.08 L394.99,245.69 L395.49,245.28 L395.99,244.86 L396.49,244.41 L396.99,243.95 L397.49,243.47 L397.99,242.97 L398.49,242.46 L398.99,241.93 L399.49,241.39 L399.99,240.83 L400.49,240.26 L400.99,239.68 L401.49,239.08 L401.99,238.48 L402.49,237.86 L402.99,237.24 L403.49,236.60 L403.99,235.95 L404.49,235.30 L404.99,234.63 L405.49,233.96 L405.99,233.27 L406.49,232.58 L406.99,231.88 L407.49,231.16 L407.99,230.44 L408.49,229.71 L408.99,228.96 L409.49,228.21 L409.99,227.45 L410.49,226.68 L410.99,225.89 L411.49,225.10 L411.99,224.30 L412.49,223.49 L412.99,222.67 L413.49,221.84 L413.99,221.00 L414.49,220.15 L414.99,219.29 L415.49,218.42 L415.99,217.54 L416.49,216.65 L416.99,215.75 L417.49,214.84 L417.99,213.93 L418.49,213.00 L418.99,212.06 L419.49,211.11 L419.99,210.16 L420.49,209.19 L420.99,208.21 L421.49,207.23 L421.99,206.23 L422.49,205.22 L422.99,204.21 L423.49,203.18 L423.99,202.15 L424.49,201.10 L424.99,200.05 L425.49,198.98 L425.99,197.91 L426.49,196.82 L426.99,195.73 L427.49,194.63 L427.99,193.51 L428.49,192.39 L428.99,191.26 L429.49,190.11 L429.99,188.96 L430.49,187.80 L430.99,186.63 L431.49,185.45 L431.99,184.27 L432.49,183.08 L432.99,181.88 L433.49,180.67 L433.99,179.46 L434.49,178.25 L434.99,177.03 L435.49,175.81 L435.99,174.58 L436.49,173.36 L436.99,172.13 L437.49,170.90 L437.99,169.66 L438.49,168.43 L438.99,167.20 L439.49,165.96 L439.99,164.73 L440.49,163.50 L440.99,162.27 L441.49,161.05 L441.99,159.83 L442.49,158.61 L442.99,157.39 L443.49,156.18 L443.99,154.98 L444.49,153.78 L444.99,152.58 L445.49,151.40 L445.99,150.22 L446.49,149.05 L446.99,147.89 L447.49,146.73 L447.99,145.59 L448.49,144.45 L448.99,143.33 L449.49,142.22 L449.99,141.11 L450.49,140.02 L450.99,138.95 L451.49,137.88 L451.99,136.83 L452.49,135.79 L452.99,134.77 L453.49,133.77 L453.99,132.78 L454.49,131.80 L454.99,130.84 L455.49,129.90 L455.99,128.98 L456.49,128.07 L456.99,127.19 L457.49,126.32 L457.99,125.47 L458.49,124.64 L458.99,123.82 L459.49,123.03 L459.99,122.25 L460.49,121.50 L460.99,120.76 L461.49,120.05 L461.99,119.35 L462.49,118.67 L462.99,118.02 L463.49,117.38 L463.99,116.76 L464.49,116.16 L464.99,115.59 L465.49,115.03 L465.99,114.50 L466.49,113.98 L466.99,113.49 L467.49,113.02 L467.99,112.57 L468.49,112.14 L468.99,111.73 L469.49,111.34 L469.99,110.98 L470.49,110.64 L470.99,110.32 L471.49,110.02 L471.99,109.74 L472.49,109.49 L472.99,109.26 L473.49,109.05 L473.99,108.87 L474.49,108.71 L474.99,108.57 L475.49,108.45 L475.99,108.36 L476.49,108.30 L476.99,108.25 L477.49,108.23 L477.99,108.24 L478.49,108.26 L478.99,108.32 L479.49,108.39 L479.99,108.49 L480.49,108.62 L480.99,108.77 L481.49,108.95 L481.99,109.15 L482.49,109.38 L482.99,109.63 L483.49,109.90 L483.99,110.21 L484.49,110.53 L484.99,110.88 L485.49,111.26 L485.99,111.66 L486.49,112.09 L486.99,112.54 L487.49,113.01 L487.99,113.51 L488.49,114.03 L488.99,114.57 L489.49,115.14 L489.99,115.73 L490.49,116.34 L490.99,116.98 L491.49,117.64 L491.99,118.32 L492.49,119.03 L492.99,119.76 L493.49,120.51 L493.99,121.28 L494.49,122.07 L494.99,122.89 L495.49,123.72 L495.99,124.58 L496.49,125.46 L496.99,126.36 L497.49,127.28 L497.99,128.23 L498.49,129.19 L498.99,130.17 L499.49,131.18 L499.99,132.20 L500.49,133.25 L500.99,134.31 L501.49,135.40 L501.99,136.50 L502.49,137.63 L502.99,138.77 L503.49,139.93 L503.99,141.11 L504.49,142.31 L504.99,143.53 L505.49,144.77 L505.99,146.03 L506.49,147.30 L506.99,148.60 L507.49,149.91 L507.99,151.24 L508.49,152.58 L508.99,153.95 L509.49,155.33 L509.99,156.73 L510.49,158.14 L510.99,159.57 L511.49,161.02 L511.99,162.48 L512.49,163.95 L512.99,165.44 L513.49,166.94 L513.99,168.46 L514.49,169.98 L514.99,171.52 L515.49,173.07 L515.99,174.63 L516.49,176.20 L516.99,177.78 L517.49,179.36 L517.99,180.96 L518.49,182.56 L518.99,184.17 L519.49,185.79 L519.99,187.41 L520.49,189.04 L520.99,190.68 L521.49,192.31 L521.99,193.96 L522.49,195.60 L522.99,197.25 L523.49,198.90 L523.99,200.56 L524.49,202.21 L524.99,203.86 L525.49,205.52 L525.99,207.18 L526.49,208.83 L526.99,210.48 L527.49,212.13 L527.99,213.78 L528.49,215.43 L528.99,217.07 L529.49,218.71 L529.99,220.34 L530.49,221.97 L530.99,223.60 L531.49,225.21 L531.99,226.82 L532.49,228.43 L532.99,230.02 L533.49,231.61 L533.99,233.19 L534.49,234.75 L534.99,236.31 L535.49,237.86 L535.99,239.40 L536.49,240.93 L536.99,242.44 L537.49,243.95 L537.99,245.44 L538.49,246.92 L538.99,248.39 L539.49,249.85 L539.99,251.29 L540.49,252.73 L540.99,254.15 L541.49,255.56 L541.99,256.96 L542.49,258.35 L542.99,259.73 L543.49,261.09 L543.99,262.44 L544.49,263.78 L544.99,265.10 L545.49,266.42 L545.99,267.72 L546.49,269.00 L546.99,270.28 L547.49,271.54 L547.99,272.79 L548.49,274.02 L548.99,275.25 L549.49,276.46 L549.99,277.65 L550.49,278.83 L550.99,280.00 L551.49,281.16 L551.99,282.30 L552.49,283.43 L552.99,284.54 L553.49,285.64 L553.99,286.73 L554.49,287.80 L554.99,288.86 L555.49,289.90 L555.99,290.93 L556.49,291.94 L556.99,292.94 L557.49,293.93 L557.99,294.90 L558.49,295.85 L558.99,296.79 L559.49,297.72 L559.99,298.63 L560.49,299.52 L560.99,300.40 L561.49,301.27 L561.99,302.12 L562.49,302.95 L562.99,303.77 L563.49,304.57 L563.99,305.35 L564.49,306.11 L564.99,306.86 L565.49,307.58 L565.99,308.28 L566.49,308.96 L566.99,309.62 L567.49,310.25 L567.99,310.86 L568.49,311.44 L568.99,312.00 L569.49,312.52 L569.99,313.03 L570.49,313.50 L570.99,313.94 L571.49,314.35 L571.99,314.73 L572.49,315.08 L572.99,315.39 L573.49,315.67 L573.99,315.92 L574.49,316.13 L574.99,316.30 L575.49,316.44 L575.99,316.54 L576.49,316.60 L576.99,316.62 L577.49,316.60 L577.99,316.54 L578.49,316.45 L578.99,316.32 L579.49,316.16 L579.99,315.96 L580.49,315.73 L580.99,315.47 L581.49,315.18 L581.99,314.86 L582.49,314.51 L582.99,314.14 L583.49,313.74 L583.99,313.31 L584.49,312.86 L584.99,312.39 L585.49,311.90 L585.99,311.38 L586.49,310.85 L586.99,310.30 L587.49,309.73 L587.99,309.15 L588.49,308.55 L588.99,307.93 L589.49,307.30 L589.99,306.66 L590.49,306.01 L590.99,305.34 L591.49,304.66 L591.99,303.96 L592.49,303.25 L592.99,302.53 L593.49,301.80 L593.99,301.05 L594.49,300.29 L594.99,299.52 L595.49,298.74 L595.99,297.94 L596.49,297.13 L596.99,296.31 L597.49,295.48 L597.99,294.63 L598.49,293.77 L598.99,292.90 L599.49,292.02 L599.99,291.13 L600.49,290.23 L600.99,289.31 L601.49,288.39 L601.99,287.45 L602.49,286.50 L602.99,285.54 L603.49,284.57 L603.99,283.59 L604.49,282.59 L604.99,281.59 L605.49,280.58 L605.99,279.55 L606.49,278.52 L606.99,277.47 L607.49,276.42 L607.99,275.36 L608.49,274.28 L608.99,273.20 L609.49,272.10 L609.99,271.00 L610.49,269.89 L610.99,268.76 L611.49,267.63 L611.99,266.49 L612.49,265.34 L612.99,264.18 L613.49,263.01 L613.99,261.84 L614.49,260.65 L614.99,259.46 L615.49,258.25 L615.99,257.04 L616.49,255.82 L616.99,254.60 L617.49,253.37 L617.99,252.13 L618.49,250.88 L618.99,249.63 L619.49,248.38 L619.99,247.12 L620.49,245.86 L620.99,244.60 L621.49,243.33 L621.99,242.06 L622.49,240.79 L622.99,239.51 L623.49,238.24 L623.99,236.97 L624.49,235.70 L624.99,234.43 L625.49,233.15 L625.99,231.89 L626.49,230.62 L626.99,229.36 L627.49,228.10 L627.99,226.84 L628.49,225.59 L628.99,224.35 L629.49,223.11 L629.99,221.87 L630.49,220.64 L630.99,219.42 L631.49,218.21 L631.99,217.00 L632.49,215.81 L632.99,214.62 L633.49,213.44 L633.99,212.27 L634.49,211.11 L634.99,209.97 L635.49,208.83 L635.99,207.71 L636.49,206.60 L636.99,205.50 L637.49,204.42 L637.99,203.35 L638.49,202.29 L638.99,201.25 L639.49,200.22 L639.99,199.22 L640.49,198.22 L640.99,197.25 L641.49,196.29 L641.99,195.35 L642.49,194.43 L642.99,193.53 L643.49,192.64 L643.99,191.78 L644.49,190.93 L644.99,190.10 L645.49,189.29 L645.99,188.50 L646.49,187.72 L646.99,186.97 L647.49,186.23 L647.99,185.51 L648.49,184.81 L648.99,184.13 L649.49,183.47 L649.99,182.82 L650.49,182.20 L650.99,181.59 L651.49,181.00 L651.99,180.43 L652.49,179.88 L652.99,179.34 L653.49,178.83 L653.99,178.33 L654.49,177.85 L654.99,177.39 L655.49,176.95 L655.99,176.53 L656.49,176.13 L656.99,175.74 L657.49,175.38 L657.99,175.03 L658.49,174.70 L658.99,174.39 L659.49,174.09 L659.99,173.82 L660.49,173.57 L660.99,173.33 L661.49,173.11 L661.99,172.91 L662.49,172.73 L662.99,172.57 L663.49,172.43 L663.99,172.30 L664.49,172.20 L664.99,172.11 L665.49,172.05 L665.99,172.01 L666.49,172.00 L666.99,172.01 L667.49,172.06 L667.99,172.13 L668.49,172.24 L668.99,172.38 L669.49,172.56 L669.99,172.77 L670.49,173.01 L670.99,173.29 L671.49,173.60 L671.99,173.94 L672.49,174.31 L672.99,174.72 L673.49,175.15 L673.99,175.62 L674.49,176.12 L674.99,176.64 L675.49,177.20 L675.99,177.79 L676.49,178.41 L676.99,179.05 L677.49,179.72 L677.99,180.43 L678.49,181.16 L678.99,181.91 L679.49,182.70 L679.99,183.51 L680.49,184.35 L680.99,185.21 L681.49,186.11 L681.99,187.02 L682.49,187.96 L682.99,188.93 L683.49,189.92 L683.99,190.94 L684.49,191.98 L684.99,193.04 L685.49,194.13 L685.99,195.24 L686.49,196.37 L686.99,197.53 L687.49,198.71 L687.99,199.91 L688.49,201.13 L688.99,202.37 L689.49,203.63 L689.99,204.91 L690.49,206.22 L690.99,207.54 L691.49,208.88 L691.99,210.24 L692.49,211.62 L692.99,213.02 L693.49,214.44 L693.99,215.87 L694.49,217.33 L694.99,218.80 L695.49,220.28 L695.99,221.78 L696.49,223.30 L696.99,224.84 L697.49,226.39 L697.99,227.96 L698.49,229.54 L698.99,231.14 L699.49,232.75 L699.99,234.37 L700.49,236.01 L700.99,237.67 L701.49,239.34 L701.99,241.02 L702.49,242.72 L702.99,244.43 L703.49,246.15 L703.99,247.88 L704.49,249.63 L704.99,251.39 L705.49,253.16 L705.99,254.94 L706.49,256.74 L706.99,258.54 L707.49,260.36 L707.99,262.18 L708.49,264.02 L708.99,265.87 L709.49,267.73 L709.99,269.59 L710.49,271.47 L710.99,273.35 L711.49,275.25 L711.99,277.15 L712.49,279.06 L712.99,280.98 L713.49,282.91 L713.99,284.84 L714.49,286.79 L714.99,288.74 L715.49,290.69 L715.99,292.66 L716.49,294.63 L716.99,296.60 L717.49,298.58 L717.99,300.57 L718.49,302.56 L718.99,304.56 L719.49,306.56 L719.99,308.57 L720.49,310.58 L720.99,312.60 L721.49,314.62 L721.99,316.65 L722.49,318.67 L722.99,320.70 L723.49,322.73 L723.99,324.77 L724.49,326.80 L724.99,328.84 L725.49,330.87 L725.99,332.90 L726.49,334.94 L726.99,336.97 L727.49,338.99 L727.99,341.02 L728.49,343.04 L728.99,345.06 L729.49,347.07 L729.99,349.08 L730.49,351.08 L730.99,353.08 L731.49,355.07 L731.99,357.05 L732.49,359.02 L732.99,360.99 L733.49,362.94 L733.99,364.89 L734.49,366.83 L734.99,368.75 L735.49,370.67 L735.99,372.57 L736.49,374.46 L736.99,376.34 L737.49,378.20 L737.99,380.05 L738.49,381.89 L738.99,383.71 L739.49,385.52 L739.99,387.31 L740.49,389.08 L740.99,390.83 L741.49,392.57 L741.99,394.29 L742.49,395.99 L742.99,397.67 L743.49,399.33 L743.99,400.97 L744.49,402.59 L744.99,404.19 L745.49,405.76 L745.99,407.31 L746.49,408.84 L746.99,410.35 L747.49,411.83 L747.99,413.28 L748.49,414.71 L748.99,416.12 L749.49,417.50 L749.99,418.85 L750.49,420.18 L750.99,421.48 L751.49,422.76 L751.99,424.01 L752.49,425.24 L752.99,426.44 L753.49,427.62 L753.99,428.77 L754.49,429.90 L754.99,431.01 L755.49,432.08 L755.99,433.14 L756.49,434.17 L756.99,435.17 L757.49,436.15 L757.99,437.11 L758.49,438.04 L758.99,438.95 L759.49,439.83 L759.99,440.69 L760.49,441.52 L760.99,442.33 L761.49,443.12 L761.99,443.88 L762.49,444.62 L762.99,445.34 L763.49,446.03 L763.99,446.69 L764.49,447.34 L764.99,447.96 L765.49,448.56 L765.99,449.13 L766.49,449.68 L766.99,450.21 L767.49,450.71 L767.99,451.19 L768.49,451.65 L768.99,452.08 L769.49,452.50 L769.99,452.88 L770.49,453.25 L770.99,453.59 L771.49,453.91 L771.99,454.21 L772.49,454.49 L772.99,454.74 L773.49,454.97 L773.99,455.18 L774.49,455.36 L774.99,455.53 L775.49,455.67 L775.99,455.79 L776.49,455.88 L776.99,455.96 L777.49,456.01 L777.99,456.05 L778.49,456.06 L778.99,456.06 L779.49,456.03 L779.99,455.99 L780.49,455.92 L780.99,455.84 L781.49,455.73 L781.99,455.61 L782.49,455.47 L782.99,455.31 L783.49,455.14 L783.99,454.94 L784.49,454.73 L784.99,454.51 L785.49,454.26 L785.99,454.00 L786.49,453.72 L786.99,453.43 L787.49,453.12 L787.99,452.80 L788.49,452.46 L788.99,452.10 L789.49,451.74 L789.99,451.35 L790.49,450.95 L790.99,450.54 L791.49,450.12 L791.99,449.68 L792.49,449.23 L792.99,448.77 L793.49,448.29 L793.99,447.80 L794.49,447.30 L794.99,446.79 L795.49,446.27 L795.99,445.73 L796.49,445.19 L796.99,444.63 L797.49,444.06 L797.99,443.49 L798.49,442.90 L798.99,442.30 L799.49,441.70 L799.99,441.08 L800.49,440.46 L800.99,439.83 L801.49,439.19 L801.99,438.54 L802.49,437.89 L802.99,437.22 L803.49,436.56 L803.99,435.88 L804.49,435.20 L804.99,434.51 L805.49,433.82 L805.99,433.12 L806.49,432.42 L806.99,431.71 L807.49,431.00 L807.99,430.29 L808.49,429.57 L808.99,428.85 L809.49,428.13 L809.99,427.41 L810.49,426.68 L810.99,425.96 L811.49,425.23 L811.99,424.50 L812.49,423.78 L812.99,423.05 L813.49,422.32 L813.99,421.60 L814.49,420.87 L814.99,420.15 L815.49,419.43 L815.99,418.71 L816.49,418.00 L816.99,417.29 L817.49,416.58 L817.99,415.88 L818.49,415.18 L818.99,414.48 L819.49,413.79 L819.99,413.11 L820.49,412.43 L820.99,411.76 L821.49,411.10 L821.99,410.44 L822.49,409.79 L822.99,409.15 L823.49,408.51 L823.99,407.89 L824.49,407.27 L824.99,406.66 L825.49,406.06 L825.99,405.47 L826.49,404.90 L826.99,404.33 L827.49,403.77 L827.99,403.23 L828.49,402.70 L828.99,402.18 L829.49,401.67 L829.99,401.18 L830.49,400.70 L830.99,400.24 L831.49,399.79 L831.99,399.37 L832.49,398.96 L832.99,398.56 L833.49,398.19 L833.99,397.84 L834.49,397.50 L834.99,397.19 L835.49,396.90 L835.99,396.63 L836.49,396.39 L836.99,396.17 L837.49,395.97 L837.99,395.80 L838.49,395.66 L838.99,395.54 L839.49,395.45 L839.99,395.39 L840.49,395.36 L840.99,395.35 L841.49,395.38 L841.99,395.44 L842.49,395.53 L842.99,395.65 L843.49,395.80 L843.99,395.99 L844.49,396.20 L844.99,396.45 L845.49,396.72 L845.99,397.01 L846.49,397.33 L846.99,397.67 L847.49,398.03 L847.99,398.41 L848.49,398.81 L848.99,399.22 L849.49,399.66 L849.99,400.10 L850.49,400.56 L850.99,401.02 L851.49,401.50 L851.99,401.99 L852.49,402.48 L852.99,402.97 L853.49,403.47 L853.99,403.98 L854.31,404.30" stroke="#0000ff" fill="none" stroke-width="5.6" stroke-linejoin="round"/>
<path d="M163.5,341.9 L170.5,349.5 L163.5,357.1 L156.5,349.5Z" fill="#0000ff"/>
<path d="M190.1,313.2 L197.1,320.8 L190.1,328.4 L183.1,320.8Z" fill="#0000ff"/>
<path d="M216.6,278.3 L223.6,285.9 L216.6,293.5 L209.6,285.9Z" fill="#0000ff"/>
<path d="M243.2,238.6 L250.2,246.2 L243.2,253.8 L236.2,246.2Z" fill="#0000ff"/>
<path d="M269.8,197.3 L276.8,204.9 L269.8,212.5 L262.8,204.9Z" fill="#0000ff"/>
<path d="M296.3,171.8 L303.3,179.4 L296.3,187.0 L289.3,179.4Z" fill="#0000ff"/>
<path d="M322.9,177.1 L329.9,184.7 L322.9,192.3 L315.9,184.7Z" fill="#0000ff"/>
<path d="M349.5,208.3 L356.5,215.9 L349.5,223.5 L342.5,215.9Z" fill="#0000ff"/>
<path d="M376.0,235.7 L383.0,243.3 L376.0,250.9 L369.0,243.3Z" fill="#0000ff"/>
<path d="M402.6,230.1 L409.6,237.7 L402.6,245.3 L395.6,237.7Z" fill="#0000ff"/>
<path d="M429.2,183.2 L436.2,190.8 L429.2,198.4 L422.2,190.8Z" fill="#0000ff"/>
<path d="M455.8,121.8 L462.8,129.4 L455.8,137.0 L448.8,129.4Z" fill="#0000ff"/>
<path d="M482.3,101.7 L489.3,109.3 L482.3,116.9 L475.3,109.3Z" fill="#0000ff"/>
<path d="M508.9,146.1 L515.9,153.7 L508.9,161.3 L501.9,153.7Z" fill="#0000ff"/>
<path d="M535.5,230.2 L542.5,237.8 L535.5,245.4 L528.5,237.8Z" fill="#0000ff"/>
<path d="M562.0,294.6 L569.0,302.2 L562.0,309.8 L555.0,302.2Z" fill="#0000ff"/>
<path d="M588.6,300.8 L595.6,308.4 L588.6,316.0 L581.6,308.4Z" fill="#0000ff"/>
<path d="M615.2,251.4 L622.2,259.0 L615.2,266.6 L608.2,259.0Z" fill="#0000ff"/>
<path d="M641.8,188.2 L648.8,195.8 L641.8,203.4 L634.8,195.8Z" fill="#0000ff"/>
<path d="M668.3,164.6 L675.3,172.2 L668.3,179.8 L661.3,172.2Z" fill="#0000ff"/>
<path d="M694.9,210.9 L701.9,218.5 L694.9,226.1 L687.9,218.5Z" fill="#0000ff"/>
<path d="M721.5,306.9 L728.5,314.5 L721.5,322.1 L714.5,314.5Z" fill="#0000ff"/>
<path d="M748.0,405.8 L755.0,413.4 L748.0,421.0 L741.0,413.4Z" fill="#0000ff"/>
<path d="M774.6,447.8 L781.6,455.4 L774.6,463.0 L767.6,455.4Z" fill="#0000ff"/>
<path d="M801.2,432.0 L808.2,439.6 L801.2,447.2 L794.2,439.6Z" fill="#0000ff"/>
<path d="M827.7,395.9 L834.7,403.5 L827.7,411.1 L820.7,403.5Z" fill="#0000ff"/>
<path d="M854.3,396.7 L861.3,404.3 L854.3,411.9 L847.3,404.3Z" fill="#0000ff"/>
<path d="M163.49,229.20 L163.99,228.64 L164.49,228.08 L164.99,227.51 L165.49,226.95 L165.99,226.39 L166.49,225.83 L166.99,225.28 L167.49,224.72 L167.99,224.17 L168.49,223.61 L168.99,223.06 L169.49,222.52 L169.99,221.97 L170.49,221.43 L170.99,220.89 L171.49,220.35 L171.99,219.82 L172.49,219.29 L172.99,218.77 L173.49,218.25 L173.99,217.73 L174.49,217.22 L174.99,216.72 L175.49,216.22 L175.99,215.72 L176.49,215.23 L176.99,214.75 L177.49,214.27 L177.99,213.80 L178.49,213.33 L178.99,212.87 L179.49,212.42 L179.99,211.98 L180.49,211.54 L180.99,211.11 L181.49,210.69 L181.99,210.28 L182.49,209.87 L182.99,209.47 L183.49,209.09 L183.99,208.71 L184.49,208.34 L184.99,207.98 L185.49,207.63 L185.99,207.28 L186.49,206.95 L186.99,206.63 L187.49,206.32 L187.99,206.02 L188.49,205.73 L188.99,205.46 L189.49,205.19 L189.99,204.93 L190.49,204.69 L190.99,204.46 L191.49,204.24 L191.99,204.03 L192.49,203.84 L192.99,203.65 L193.49,203.48 L193.99,203.32 L194.49,203.17 L194.99,203.03 L195.49,202.90 L195.99,202.79 L196.49,202.68 L196.99,202.59 L197.49,202.51 L197.99,202.44 L198.49,202.38 L198.99,202.33 L199.49,202.29 L199.99,202.26 L200.49,202.24 L200.99,202.24 L201.49,202.24 L201.99,202.26 L202.49,202.28 L202.99,202.32 L203.49,202.36 L203.99,202.42 L204.49,202.49 L204.99,202.56 L205.49,202.65 L205.99,202.75 L206.49,202.86 L206.99,202.98 L207.49,203.11 L207.99,203.25 L208.49,203.40 L208.99,203.56 L209.49,203.73 L209.99,203.92 L210.49,204.11 L210.99,204.32 L211.49,204.54 L211.99,204.77 L212.49,205.01 L212.99,205.27 L213.49,205.53 L213.99,205.81 L214.49,206.11 L214.99,206.41 L215.49,206.73 L215.99,207.06 L216.49,207.40 L216.99,207.76 L217.49,208.13 L217.99,208.51 L218.49,208.90 L218.99,209.31 L219.49,209.73 L219.99,210.16 L220.49,210.60 L220.99,211.06 L221.49,211.52 L221.99,212.00 L222.49,212.49 L222.99,212.98 L223.49,213.49 L223.99,214.01 L224.49,214.53 L224.99,215.07 L225.49,215.62 L225.99,216.17 L226.49,216.73 L226.99,217.31 L227.49,217.89 L227.99,218.47 L228.49,219.07 L228.99,219.67 L229.49,220.29 L229.99,220.90 L230.49,221.53 L230.99,222.16 L231.49,222.80 L231.99,223.44 L232.49,224.09 L232.99,224.75 L233.49,225.41 L233.99,226.08 L234.49,226.75 L234.99,227.42 L235.49,228.10 L235.99,228.79 L236.49,229.48 L236.99,230.17 L237.49,230.87 L237.99,231.57 L238.49,232.27 L238.99,232.98 L239.49,233.68 L239.99,234.40 L240.49,235.11 L240.99,235.82 L241.49,236.54 L241.99,237.26 L242.49,237.98 L242.99,238.70 L243.49,239.42 L243.99,240.14 L244.49,240.86 L244.99,241.58 L245.49,242.31 L245.99,243.03 L246.49,243.75 L246.99,244.47 L247.49,245.19 L247.99,245.91 L248.49,246.63 L248.99,247.35 L249.49,248.06 L249.99,248.78 L250.49,249.49 L250.99,250.20 L251.49,250.91 L251.99,251.61 L252.49,252.32 L252.99,253.02 L253.49,253.72 L253.99,254.41 L254.49,255.10 L254.99,255.79 L255.49,256.48 L255.99,257.16 L256.49,257.84 L256.99,258.51 L257.49,259.18 L257.99,259.84 L258.49,260.50 L258.99,261.16 L259.49,261.81 L259.99,262.46 L260.49,263.10 L260.99,263.73 L261.49,264.36 L261.99,264.98 L262.49,265.60 L262.99,266.21 L263.49,266.82 L263.99,267.41 L264.49,268.01 L264.99,268.59 L265.49,269.17 L265.99,269.74 L266.49,270.30 L266.99,270.86 L267.49,271.41 L267.99,271.95 L268.49,272.48 L268.99,273.00 L269.49,273.52 L269.99,274.02 L270.49,274.52 L270.99,275.01 L271.49,275.48 L271.99,275.95 L272.49,276.40 L272.99,276.84 L273.49,277.26 L273.99,277.67 L274.49,278.07 L274.99,278.44 L275.49,278.80 L275.99,279.15 L276.49,279.47 L276.99,279.77 L277.49,280.05 L277.99,280.31 L278.49,280.55 L278.99,280.76 L279.49,280.95 L279.99,281.11 L280.49,281.25 L280.99,281.36 L281.49,281.44 L281.99,281.50 L282.49,281.52 L282.99,281.52 L283.49,281.49 L283.99,281.43 L284.49,281.34 L284.99,281.23 L285.49,281.08 L285.99,280.92 L286.49,280.72 L286.99,280.50 L287.49,280.26 L287.99,279.99 L288.49,279.69 L288.99,279.37 L289.49,279.03 L289.99,278.67 L290.49,278.28 L290.99,277.87 L291.49,277.44 L291.99,276.98 L292.49,276.51 L292.99,276.01 L293.49,275.50 L293.99,274.96 L294.49,274.41 L294.99,273.84 L295.49,273.25 L295.99,272.64 L296.49,272.01 L296.99,271.37 L297.49,270.70 L297.99,270.03 L298.49,269.33 L298.99,268.62 L299.49,267.89 L299.99,267.14 L300.49,266.38 L300.99,265.60 L301.49,264.81 L301.99,264.00 L302.49,263.18 L302.99,262.33 L303.49,261.48 L303.99,260.61 L304.49,259.72 L304.99,258.82 L305.49,257.90 L305.99,256.97 L306.49,256.02 L306.99,255.06 L307.49,254.08 L307.99,253.09 L308.49,252.09 L308.99,251.07 L309.49,250.04 L309.99,249.00 L310.49,247.94 L310.99,246.87 L311.49,245.78 L311.99,244.68 L312.49,243.57 L312.99,242.45 L313.49,241.31 L313.99,240.16 L314.49,239.00 L314.99,237.82 L315.49,236.64 L315.99,235.44 L316.49,234.23 L316.99,233.01 L317.49,231.77 L317.99,230.53 L318.49,229.27 L318.99,228.01 L319.49,226.73 L319.99,225.44 L320.49,224.14 L320.99,222.83 L321.49,221.51 L321.99,220.18 L322.49,218.83 L322.99,217.48 L323.49,216.12 L323.99,214.75 L324.49,213.37 L324.99,211.98 L325.49,210.59 L325.99,209.19 L326.49,207.78 L326.99,206.36 L327.49,204.94 L327.99,203.51 L328.49,202.08 L328.99,200.65 L329.49,199.21 L329.99,197.77 L330.49,196.33 L330.99,194.88 L331.49,193.43 L331.99,191.98 L332.49,190.54 L332.99,189.09 L333.49,187.64 L333.99,186.19 L334.49,184.75 L334.99,183.30 L335.49,181.86 L335.99,180.43 L336.49,178.99 L336.99,177.57 L337.49,176.14 L337.99,174.72 L338.49,173.31 L338.99,171.90 L339.49,170.50 L339.99,169.11 L340.49,167.73 L340.99,166.35 L341.49,164.99 L341.99,163.63 L342.49,162.28 L342.99,160.95 L343.49,159.62 L343.99,158.31 L344.49,157.01 L344.99,155.72 L345.49,154.44 L345.99,153.18 L346.49,151.93 L346.99,150.70 L347.49,149.48 L347.99,148.28 L348.49,147.10 L348.99,145.93 L349.49,144.78 L349.99,143.64 L350.49,142.53 L350.99,141.43 L351.49,140.35 L351.99,139.30 L352.49,138.26 L352.99,137.23 L353.49,136.23 L353.99,135.25 L354.49,134.29 L354.99,133.35 L355.49,132.43 L355.99,131.52 L356.49,130.64 L356.99,129.79 L357.49,128.95 L357.99,128.13 L358.49,127.34 L358.99,126.56 L359.49,125.81 L359.99,125.08 L360.49,124.38 L360.99,123.70 L361.49,123.04 L361.99,122.40 L362.49,121.78 L362.99,121.19 L363.49,120.63 L363.99,120.09 L364.49,119.57 L364.99,119.08 L365.49,118.61 L365.99,118.16 L366.49,117.75 L366.99,117.35 L367.49,116.99 L367.99,116.65 L368.49,116.33 L368.99,116.04 L369.49,115.78 L369.99,115.54 L370.49,115.34 L370.99,115.15 L371.49,115.00 L371.99,114.87 L372.49,114.78 L372.99,114.71 L373.49,114.66 L373.99,114.65 L374.49,114.67 L374.99,114.71 L375.49,114.78 L375.99,114.89 L376.49,115.02 L376.99,115.18 L377.49,115.37 L377.99,115.59 L378.49,115.84 L378.99,116.12 L379.49,116.43 L379.99,116.77 L380.49,117.14 L380.99,117.54 L381.49,117.96 L381.99,118.42 L382.49,118.90 L382.99,119.42 L383.49,119.96 L383.99,120.53 L384.49,121.13 L384.99,121.77 L385.49,122.42 L385.99,123.11 L386.49,123.83 L386.99,124.58 L387.49,125.35 L387.99,126.15 L388.49,126.99 L388.99,127.85 L389.49,128.74 L389.99,129.65 L390.49,130.60 L390.99,131.57 L391.49,132.58 L391.99,133.61 L392.49,134.67 L392.99,135.76 L393.49,136.88 L393.99,138.02 L394.49,139.19 L394.99,140.40 L395.49,141.63 L395.99,142.88 L396.49,144.17 L396.99,145.48 L397.49,146.82 L397.99,148.19 L398.49,149.59 L398.99,151.02 L399.49,152.47 L399.99,153.95 L400.49,155.46 L400.99,157.00 L401.49,158.56 L401.99,160.15 L402.49,161.77 L402.99,163.42 L403.49,165.10 L403.99,166.80 L404.49,168.52 L404.99,170.27 L405.49,172.04 L405.99,173.84 L406.49,175.66 L406.99,177.50 L407.49,179.35 L407.99,181.23 L408.49,183.13 L408.99,185.04 L409.49,186.97 L409.99,188.92 L410.49,190.88 L410.99,192.86 L411.49,194.85 L411.99,196.85 L412.49,198.86 L412.99,200.88 L413.49,202.92 L413.99,204.96 L414.49,207.01 L414.99,209.07 L415.49,211.14 L415.99,213.21 L416.49,215.28 L416.99,217.36 L417.49,219.44 L417.99,221.53 L418.49,223.61 L418.99,225.70 L419.49,227.79 L419.99,229.87 L420.49,231.95 L420.99,234.03 L421.49,236.11 L421.99,238.18 L422.49,240.25 L422.99,242.31 L423.49,244.36 L423.99,246.41 L424.49,248.45 L424.99,250.47 L425.49,252.49 L425.99,254.49 L426.49,256.49 L426.99,258.47 L427.49,260.43 L427.99,262.38 L428.49,264.32 L428.99,266.24 L429.49,268.14 L429.99,270.02 L430.49,271.89 L430.99,273.74 L431.49,275.57 L431.99,277.38 L432.49,279.17 L432.99,280.95 L433.49,282.71 L433.99,284.44 L434.49,286.16 L434.99,287.87 L435.49,289.55 L435.99,291.21 L436.49,292.86 L436.99,294.48 L437.49,296.09 L437.99,297.67 L438.49,299.24 L438.99,300.79 L439.49,302.31 L439.99,303.82 L440.49,305.31 L440.99,306.78 L441.49,308.22 L441.99,309.65 L442.49,311.06 L442.99,312.45 L443.49,313.81 L443.99,315.16 L444.49,316.48 L444.99,317.78 L445.49,319.07 L445.99,320.33 L446.49,321.57 L446.99,322.79 L447.49,323.99 L447.99,325.16 L448.49,326.32 L448.99,327.45 L449.49,328.56 L449.99,329.65 L450.49,330.72 L450.99,331.76 L451.49,332.79 L451.99,333.79 L452.49,334.76 L452.99,335.72 L453.49,336.65 L453.99,337.56 L454.49,338.45 L454.99,339.31 L455.49,340.16 L455.99,340.97 L456.49,341.77 L456.99,342.54 L457.49,343.28 L457.99,343.99 L458.49,344.68 L458.99,345.33 L459.49,345.96 L459.99,346.55 L460.49,347.10 L460.99,347.62 L461.49,348.11 L461.99,348.55 L462.49,348.95 L462.99,349.32 L463.49,349.64 L463.99,349.92 L464.49,350.15 L464.99,350.34 L465.49,350.48 L465.99,350.57 L466.49,350.61 L466.99,350.59 L467.49,350.53 L467.99,350.41 L468.49,350.25 L468.99,350.03 L469.49,349.77 L469.99,349.46 L470.49,349.10 L470.99,348.69 L471.49,348.24 L471.99,347.75 L472.49,347.22 L472.99,346.64 L473.49,346.02 L473.99,345.36 L474.49,344.66 L474.99,343.93 L475.49,343.16 L475.99,342.35 L476.49,341.51 L476.99,340.63 L477.49,339.72 L477.99,338.78 L478.49,337.81 L478.99,336.80 L479.49,335.77 L479.99,334.71 L480.49,333.62 L480.99,332.51 L481.49,331.37 L481.99,330.20 L482.49,329.02 L482.99,327.81 L483.49,326.58 L483.99,325.32 L484.49,324.05 L484.99,322.75 L485.49,321.44 L485.99,320.10 L486.49,318.75 L486.99,317.38 L487.49,315.98 L487.99,314.57 L488.49,313.15 L488.99,311.70 L489.49,310.24 L489.99,308.77 L490.49,307.27 L490.99,305.76 L491.49,304.24 L491.99,302.70 L492.49,301.15 L492.99,299.59 L493.49,298.01 L493.99,296.42 L494.49,294.82 L494.99,293.21 L495.49,291.58 L495.99,289.95 L496.49,288.30 L496.99,286.65 L497.49,284.98 L497.99,283.31 L498.49,281.63 L498.99,279.94 L499.49,278.24 L499.99,276.54 L500.49,274.83 L500.99,273.11 L501.49,271.39 L501.99,269.66 L502.49,267.93 L502.99,266.19 L503.49,264.45 L503.99,262.71 L504.49,260.96 L504.99,259.21 L505.49,257.46 L505.99,255.71 L506.49,253.95 L506.99,252.20 L507.49,250.44 L507.99,248.69 L508.49,246.94 L508.99,245.18 L509.49,243.43 L509.99,241.69 L510.49,239.94 L510.99,238.20 L511.49,236.46 L511.99,234.72 L512.49,232.99 L512.99,231.26 L513.49,229.54 L513.99,227.83 L514.49,226.12 L514.99,224.41 L515.49,222.72 L515.99,221.03 L516.49,219.35 L516.99,217.68 L517.49,216.01 L517.99,214.36 L518.49,212.72 L518.99,211.08 L519.49,209.46 L519.99,207.85 L520.49,206.25 L520.99,204.66 L521.49,203.08 L521.99,201.52 L522.49,199.97 L522.99,198.43 L523.49,196.91 L523.99,195.41 L524.49,193.92 L524.99,192.44 L525.49,190.98 L525.99,189.54 L526.49,188.11 L526.99,186.70 L527.49,185.31 L527.99,183.94 L528.49,182.58 L528.99,181.25 L529.49,179.94 L529.99,178.64 L530.49,177.37 L530.99,176.11 L531.49,174.88 L531.99,173.67 L532.49,172.49 L532.99,171.32 L533.49,170.18 L533.99,169.06 L534.49,167.97 L534.99,166.90 L535.49,165.86 L535.99,164.84 L536.49,163.85 L536.99,162.89 L537.49,161.96 L537.99,161.05 L538.49,160.18 L538.99,159.35 L539.49,158.55 L539.99,157.78 L540.49,157.05 L540.99,156.36 L541.49,155.71 L541.99,155.11 L542.49,154.54 L542.99,154.02 L543.49,153.54 L543.99,153.11 L544.49,152.73 L544.99,152.40 L545.49,152.11 L545.99,151.88 L546.49,151.70 L546.99,151.58 L547.49,151.51 L547.99,151.50 L548.49,151.55 L548.99,151.65 L549.49,151.81 L549.99,152.02 L550.49,152.29 L550.99,152.61 L551.49,152.98 L551.99,153.40 L552.49,153.87 L552.99,154.38 L553.49,154.95 L553.99,155.56 L554.49,156.21 L554.99,156.91 L555.49,157.66 L555.99,158.44 L556.49,159.27 L556.99,160.13 L557.49,161.04 L557.99,161.98 L558.49,162.96 L558.99,163.98 L559.49,165.03 L559.99,166.12 L560.49,167.23 L560.99,168.39 L561.49,169.57 L561.99,170.78 L562.49,172.02 L562.99,173.29 L563.49,174.58 L563.99,175.91 L564.49,177.26 L564.99,178.64 L565.49,180.05 L565.99,181.48 L566.49,182.94 L566.99,184.43 L567.49,185.94 L567.99,187.48 L568.49,189.04 L568.99,190.63 L569.49,192.24 L569.99,193.88 L570.49,195.54 L570.99,197.23 L571.49,198.94 L571.99,200.68 L572.49,202.43 L572.99,204.21 L573.49,206.01 L573.99,207.84 L574.49,209.69 L574.99,211.56 L575.49,213.45 L575.99,215.36 L576.49,217.29 L576.99,219.24 L577.49,221.22 L577.99,223.21 L578.49,225.22 L578.99,227.26 L579.49,229.31 L579.99,231.38 L580.49,233.47 L580.99,235.58 L581.49,237.71 L581.99,239.85 L582.49,242.01 L582.99,244.19 L583.49,246.39 L583.99,248.60 L584.49,250.83 L584.99,253.08 L585.49,255.34 L585.99,257.62 L586.49,259.91 L586.99,262.22 L587.49,264.54 L587.99,266.88 L588.49,269.23 L588.99,271.60 L589.49,273.98 L589.99,276.37 L590.49,278.77 L590.99,281.19 L591.49,283.61 L591.99,286.05 L592.49,288.49 L592.99,290.95 L593.49,293.41 L593.99,295.87 L594.49,298.35 L594.99,300.82 L595.49,303.31 L595.99,305.79 L596.49,308.29 L596.99,310.78 L597.49,313.27 L597.99,315.77 L598.49,318.27 L598.99,320.76 L599.49,323.26 L599.99,325.75 L600.49,328.24 L600.99,330.73 L601.49,333.22 L601.99,335.70 L602.49,338.17 L602.99,340.64 L603.49,343.10 L603.99,345.55 L604.49,348.00 L604.99,350.44 L605.49,352.86 L605.99,355.28 L606.49,357.69 L606.99,360.08 L607.49,362.46 L607.99,364.83 L608.49,367.19 L608.99,369.53 L609.49,371.85 L609.99,374.16 L610.49,376.45 L610.99,378.73 L611.49,380.98 L611.99,383.22 L612.49,385.44 L612.99,387.63 L613.49,389.81 L613.99,391.96 L614.49,394.10 L614.99,396.21 L615.49,398.29 L615.99,400.35 L616.49,402.38 L616.99,404.39 L617.49,406.38 L617.99,408.34 L618.49,410.27 L618.99,412.17 L619.49,414.05 L619.99,415.90 L620.49,417.72 L620.99,419.51 L621.49,421.27 L621.99,423.00 L622.49,424.71 L622.99,426.38 L623.49,428.02 L623.99,429.63 L624.49,431.21 L624.99,432.76 L625.49,434.27 L625.99,435.75 L626.49,437.20 L626.99,438.61 L627.49,439.99 L627.99,441.34 L628.49,442.65 L628.99,443.92 L629.49,445.16 L629.99,446.36 L630.49,447.52 L630.99,448.65 L631.49,449.74 L631.99,450.79 L632.49,451.81 L632.99,452.78 L633.49,453.72 L633.99,454.61 L634.49,455.47 L634.99,456.28 L635.49,457.06 L635.99,457.79 L636.49,458.48 L636.99,459.13 L637.49,459.73 L637.99,460.30 L638.49,460.82 L638.99,461.29 L639.49,461.72 L639.99,462.11 L640.49,462.45 L640.99,462.74 L641.49,462.99 L641.99,463.19 L642.49,463.35 L642.99,463.46 L643.49,463.52 L643.99,463.54 L644.49,463.52 L644.99,463.45 L645.49,463.34 L645.99,463.19 L646.49,462.99 L646.99,462.76 L647.49,462.48 L647.99,462.17 L648.49,461.81 L648.99,461.42 L649.49,460.99 L649.99,460.52 L650.49,460.02 L650.99,459.48 L651.49,458.90 L651.99,458.29 L652.49,457.65 L652.99,456.97 L653.49,456.26 L653.99,455.52 L654.49,454.74 L654.99,453.94 L655.49,453.10 L655.99,452.24 L656.49,451.34 L656.99,450.42 L657.49,449.47 L657.99,448.49 L658.49,447.48 L658.99,446.45 L659.49,445.39 L659.99,444.31 L660.49,443.21 L660.99,442.08 L661.49,440.92 L661.99,439.75 L662.49,438.55 L662.99,437.33 L663.49,436.10 L663.99,434.84 L664.49,433.56 L664.99,432.26 L665.49,430.95 L665.99,429.62 L666.49,428.27 L666.99,426.90 L667.49,425.52 L667.99,424.13 L668.49,422.72 L668.99,421.30 L669.49,419.86 L669.99,418.41 L670.49,416.95 L670.99,415.48 L671.49,414.00 L671.99,412.50 L672.49,411.00 L672.99,409.49 L673.49,407.97 L673.99,406.45 L674.49,404.92 L674.99,403.38 L675.49,401.84 L675.99,400.29 L676.49,398.74 L676.99,397.18 L677.49,395.62 L677.99,394.06 L678.49,392.50 L678.99,390.94 L679.49,389.37 L679.99,387.81 L680.49,386.25 L680.99,384.69 L681.49,383.13 L681.99,381.58 L682.49,380.03 L682.99,378.48 L683.49,376.94 L683.99,375.41 L684.49,373.88 L684.99,372.36 L685.49,370.84 L685.99,369.34 L686.49,367.84 L686.99,366.35 L687.49,364.87 L687.99,363.40 L688.49,361.95 L688.99,360.50 L689.49,359.07 L689.99,357.65 L690.49,356.25 L690.99,354.86 L691.49,353.49 L691.99,352.13 L692.49,350.79 L692.99,349.46 L693.49,348.16 L693.99,346.87 L694.49,345.60 L694.99,344.35 L695.49,343.12 L695.99,341.92 L696.49,340.73 L696.99,339.56 L697.49,338.42 L697.99,337.29 L698.49,336.19 L698.99,335.12 L699.49,334.06 L699.99,333.03 L700.49,332.02 L700.99,331.03 L701.49,330.07 L701.99,329.13 L702.49,328.21 L702.99,327.32 L703.49,326.45 L703.99,325.61 L704.49,324.80 L704.99,324.01 L705.49,323.24 L705.99,322.50 L706.49,321.79 L706.99,321.11 L707.49,320.45 L707.99,319.82 L708.49,319.21 L708.99,318.63 L709.49,318.09 L709.99,317.57 L710.49,317.07 L710.99,316.61 L711.49,316.18 L711.99,315.77 L712.49,315.40 L712.99,315.05 L713.49,314.73 L713.99,314.45 L714.49,314.20 L714.99,313.97 L715.49,313.78 L715.99,313.62 L716.49,313.49 L716.99,313.39 L717.49,313.33 L717.99,313.30 L718.49,313.30 L718.99,313.33 L719.49,313.40 L719.99,313.50 L720.49,313.63 L720.99,313.81 L721.49,314.01 L721.99,314.26 L722.49,314.54 L722.99,314.86 L723.49,315.21 L723.99,315.60 L724.49,316.02 L724.99,316.49 L725.49,316.98 L725.99,317.51 L726.49,318.08 L726.99,318.68 L727.49,319.32 L727.99,319.99 L728.49,320.70 L728.99,321.44 L729.49,322.21 L729.99,323.02 L730.49,323.86 L730.99,324.74 L731.49,325.65 L731.99,326.59 L732.49,327.57 L732.99,328.58 L733.49,329.62 L733.99,330.69 L734.49,331.80 L734.99,332.94 L735.49,334.11 L735.99,335.31 L736.49,336.55 L736.99,337.81 L737.49,339.11 L737.99,340.44 L738.49,341.80 L738.99,343.19 L739.49,344.62 L739.99,346.07 L740.49,347.55 L740.99,349.07 L741.49,350.61 L741.99,352.18 L742.49,353.79 L742.99,355.42 L743.49,357.08 L743.99,358.78 L744.49,360.50 L744.99,362.25 L745.49,364.03 L745.99,365.83 L746.49,367.67 L746.99,369.53 L747.49,371.43 L747.99,373.35 L748.49,375.29 L748.99,377.27 L749.49,379.27 L749.99,381.29 L750.49,383.34 L750.99,385.42 L751.49,387.51 L751.99,389.63 L752.49,391.77 L752.99,393.93 L753.49,396.10 L753.99,398.30 L754.49,400.51 L754.99,402.74 L755.49,404.98 L755.99,407.24 L756.49,409.51 L756.99,411.80 L757.49,414.09 L757.99,416.40 L758.49,418.71 L758.99,421.04 L759.49,423.37 L759.99,425.71 L760.49,428.06 L760.99,430.41 L761.49,432.77 L761.99,435.13 L762.49,437.50 L762.99,439.86 L763.49,442.23 L763.99,444.59 L764.49,446.96 L764.99,449.32 L765.49,451.69 L765.99,454.04 L766.49,456.40 L766.99,458.74 L767.49,461.09 L767.99,463.42 L768.49,465.75 L768.99,468.07 L769.49,470.38 L769.99,472.67 L770.49,474.96 L770.99,477.23 L771.49,479.49 L771.99,481.74 L772.49,483.97 L772.99,486.19 L773.49,488.38 L773.99,490.57 L774.49,492.73 L774.99,494.87 L775.49,496.99 L775.99,499.10 L776.49,501.18 L776.99,503.25 L777.49,505.31 L777.99,507.35 L778.49,509.37 L778.99,511.38 L779.49,513.38 L779.99,515.37 L780.49,517.34 L780.99,519.31 L781.49,521.26 L781.99,523.21 L782.49,525.14 L782.99,527.07 L783.49,529.00 L783.99,530.92 L784.49,532.83 L784.99,534.74 L785.49,536.64 L785.99,538.55 L786.49,540.45 L786.99,542.35 L787.49,544.25 L787.99,546.15 L788.49,548.05 L788.99,549.95 L789.49,551.86 L789.99,553.77 L790.49,555.68 L790.99,557.60 L791.49,559.53 L791.99,561.46 L792.49,563.41 L792.99,565.36 L793.49,567.31 L793.99,569.28 L794.49,571.26 L794.99,573.25 L795.49,575.26 L795.99,577.27 L796.49,579.30 L796.99,581.34 L797.49,583.40 L797.99,585.46 L798.49,587.52 L798.99,589.60 L799.49,591.68 L799.99,593.77 L800.49,595.85 L800.99,597.95 L801.49,600.04 L801.60,600.50" stroke="#008000" fill="none" stroke-width="5.6" stroke-linejoin="round"/>
<rect x="158.2" y="223.9" width="10.6" height="10.6" fill="#008000"/>
<rect x="184.8" y="199.6" width="10.6" height="10.6" fill="#008000"/>
<rect x="211.3" y="202.2" width="10.6" height="10.6" fill="#008000"/>
<rect x="237.9" y="233.7" width="10.6" height="10.6" fill="#008000"/>
<rect x="264.5" y="268.5" width="10.6" height="10.6" fill="#008000"/>
<rect x="291.0" y="266.9" width="10.6" height="10.6" fill="#008000"/>
<rect x="317.6" y="212.4" width="10.6" height="10.6" fill="#008000"/>
<rect x="344.2" y="139.5" width="10.6" height="10.6" fill="#008000"/>
<rect x="370.7" y="109.6" width="10.6" height="10.6" fill="#008000"/>
<rect x="397.3" y="156.9" width="10.6" height="10.6" fill="#008000"/>
<rect x="423.9" y="261.7" width="10.6" height="10.6" fill="#008000"/>
<rect x="450.5" y="335.3" width="10.6" height="10.6" fill="#008000"/>
<rect x="477.0" y="324.1" width="10.6" height="10.6" fill="#008000"/>
<rect x="503.6" y="240.2" width="10.6" height="10.6" fill="#008000"/>
<rect x="530.2" y="160.6" width="10.6" height="10.6" fill="#008000"/>
<rect x="556.7" y="165.6" width="10.6" height="10.6" fill="#008000"/>
<rect x="583.3" y="264.5" width="10.6" height="10.6" fill="#008000"/>
<rect x="609.9" y="391.7" width="10.6" height="10.6" fill="#008000"/>
<rect x="636.5" y="457.8" width="10.6" height="10.6" fill="#008000"/>
<rect x="663.0" y="417.9" width="10.6" height="10.6" fill="#008000"/>
<rect x="689.6" y="339.3" width="10.6" height="10.6" fill="#008000"/>
<rect x="716.2" y="308.7" width="10.6" height="10.6" fill="#008000"/>
<rect x="742.7" y="368.2" width="10.6" height="10.6" fill="#008000"/>
<rect x="769.3" y="487.9" width="10.6" height="10.6" fill="#008000"/>
</g>
<line x1="482.2" y1="25.4" x2="482.2" y2="576.5" stroke="#ff7f00" stroke-width="5.6" stroke-dasharray="6 5.63"/>
<ellipse cx="482.4" cy="112.7" rx="24.6" ry="26.6" fill="none" stroke="#ff7f00" stroke-width="4.6"/>
<rect x="153.8" y="22.9" width="701.1" height="555.3" fill="none" stroke="#000" stroke-width="3.5"/>
<line x1="243.2" y1="578.2" x2="243.2" y2="568.2" stroke="#000" stroke-width="3"/>
<line x1="376.0" y1="578.2" x2="376.0" y2="568.2" stroke="#000" stroke-width="3"/>
<line x1="508.9" y1="578.2" x2="508.9" y2="568.2" stroke="#000" stroke-width="3"/>
<line x1="641.8" y1="578.2" x2="641.8" y2="568.2" stroke="#000" stroke-width="3"/>
<line x1="774.6" y1="578.2" x2="774.6" y2="568.2" stroke="#000" stroke-width="3"/>
<line x1="176.8" y1="578.2" x2="176.8" y2="573.2" stroke="#000" stroke-width="3"/>
<line x1="309.6" y1="578.2" x2="309.6" y2="573.2" stroke="#000" stroke-width="3"/>
<line x1="442.5" y1="578.2" x2="442.5" y2="573.2" stroke="#000" stroke-width="3"/>
<line x1="575.3" y1="578.2" x2="575.3" y2="573.2" stroke="#000" stroke-width="3"/>
<line x1="708.2" y1="578.2" x2="708.2" y2="573.2" stroke="#000" stroke-width="3"/>
<line x1="841.0" y1="578.2" x2="841.0" y2="573.2" stroke="#000" stroke-width="3"/>
<line x1="153.8" y1="133.8" x2="164.10000000000002" y2="133.8" stroke="#000" stroke-width="3"/>
<line x1="153.8" y1="245.0" x2="164.10000000000002" y2="245.0" stroke="#000" stroke-width="3"/>
<line x1="153.8" y1="356.1" x2="164.10000000000002" y2="356.1" stroke="#000" stroke-width="3"/>
<line x1="153.8" y1="467.3" x2="164.10000000000002" y2="467.3" stroke="#000" stroke-width="3"/>
<line x1="153.8" y1="78.3" x2="158.8" y2="78.3" stroke="#000" stroke-width="3"/>
<line x1="153.8" y1="189.4" x2="158.8" y2="189.4" stroke="#000" stroke-width="3"/>
<line x1="153.8" y1="300.6" x2="158.8" y2="300.6" stroke="#000" stroke-width="3"/>
<line x1="153.8" y1="411.7" x2="158.8" y2="411.7" stroke="#000" stroke-width="3"/>
<line x1="153.8" y1="522.9" x2="158.8" y2="522.9" stroke="#000" stroke-width="3"/>
<text x="140.2" y="33.9" font-family="Liberation Serif" font-weight="bold" font-size="36.8" text-anchor="end">0.0</text>
<text x="140.2" y="145.0" font-family="Liberation Serif" font-weight="bold" font-size="36.8" text-anchor="end">−0.1</text>
<text x="140.2" y="256.2" font-family="Liberation Serif" font-weight="bold" font-size="36.8" text-anchor="end">−0.2</text>
<text x="140.2" y="367.3" font-family="Liberation Serif" font-weight="bold" font-size="36.8" text-anchor="end">−0.3</text>
<text x="140.2" y="478.5" font-family="Liberation Serif" font-weight="bold" font-size="36.8" text-anchor="end">−0.4</text>
<text x="140.2" y="589.7" font-family="Liberation Serif" font-weight="bold" font-size="36.8" text-anchor="end">−0.5</text>
<text x="243.2" y="618.6" font-family="Liberation Serif" font-weight="bold" font-size="36.8" text-anchor="middle">1.00</text>
<text x="376.0" y="618.6" font-family="Liberation Serif" font-weight="bold" font-size="36.8" text-anchor="middle">1.25</text>
<text x="508.9" y="618.6" font-family="Liberation Serif" font-weight="bold" font-size="36.8" text-anchor="middle">1.50</text>
<text x="641.8" y="618.6" font-family="Liberation Serif" font-weight="bold" font-size="36.8" text-anchor="middle">1.75</text>
<text x="774.6" y="618.6" font-family="Liberation Serif" font-weight="bold" font-size="36.8" text-anchor="middle">2.00</text>
<text transform="translate(52.6,487.6) rotate(-90)" font-family="Liberation Serif" font-weight="bold" font-size="47.7">Transmission (dB)</text>
<text x="428" y="677.8" font-family="Liberation Serif" font-weight="bold" font-style="italic" font-size="47">L</text>
<text x="457.3" y="691.4" font-family="Liberation Serif" font-weight="bold" font-size="37.5" textLength="21.2" lengthAdjust="spacingAndGlyphs">E</text>
<text x="491" y="677.8" font-family="Liberation Serif" font-weight="bold" font-size="46.3">(µm)</text>
<rect x="251.7" y="419.8" width="143.4" height="135.4" fill="#fff"/>
<line x1="253.3" y1="445.7" x2="308" y2="445.7" stroke="#ff0000" stroke-width="5.6" stroke-linecap="round"/>
<circle cx="281.2" cy="445.5" r="6.1" fill="#ff0000"/><circle cx="279.9" cy="444.0" r="1.7" fill="#fff"/>
<line x1="253.3" y1="491.3" x2="308" y2="491.3" stroke="#0000ff" stroke-width="5.6" stroke-linecap="round"/>
<path d="M281.4,483.9 L288.4,491.5 L281.4,499.1 L274.4,491.5Z" fill="#0000ff"/>
<line x1="253.3" y1="536.8" x2="308" y2="536.8" stroke="#008000" stroke-width="5.6" stroke-linecap="round"/>
<rect x="276.1" y="531.2" width="10.6" height="10.6" fill="#008000"/>
<rect x="251.7" y="419.8" width="143.4" height="135.4" fill="none" stroke="#000" stroke-width="3.2"/>
<text x="326.2" y="454.0" font-family="Liberation Serif" font-weight="bold" font-size="38.5" textLength="65.5" lengthAdjust="spacingAndGlyphs">N=4</text>
<text x="326.2" y="499.7" font-family="Liberation Serif" font-weight="bold" font-size="38.5" textLength="65.5" lengthAdjust="spacingAndGlyphs">N=5</text>
<text x="326.2" y="545.4" font-family="Liberation Serif" font-weight="bold" font-size="38.5" textLength="65.5" lengthAdjust="spacingAndGlyphs">N=6</text>
</svg>
</body></html>
